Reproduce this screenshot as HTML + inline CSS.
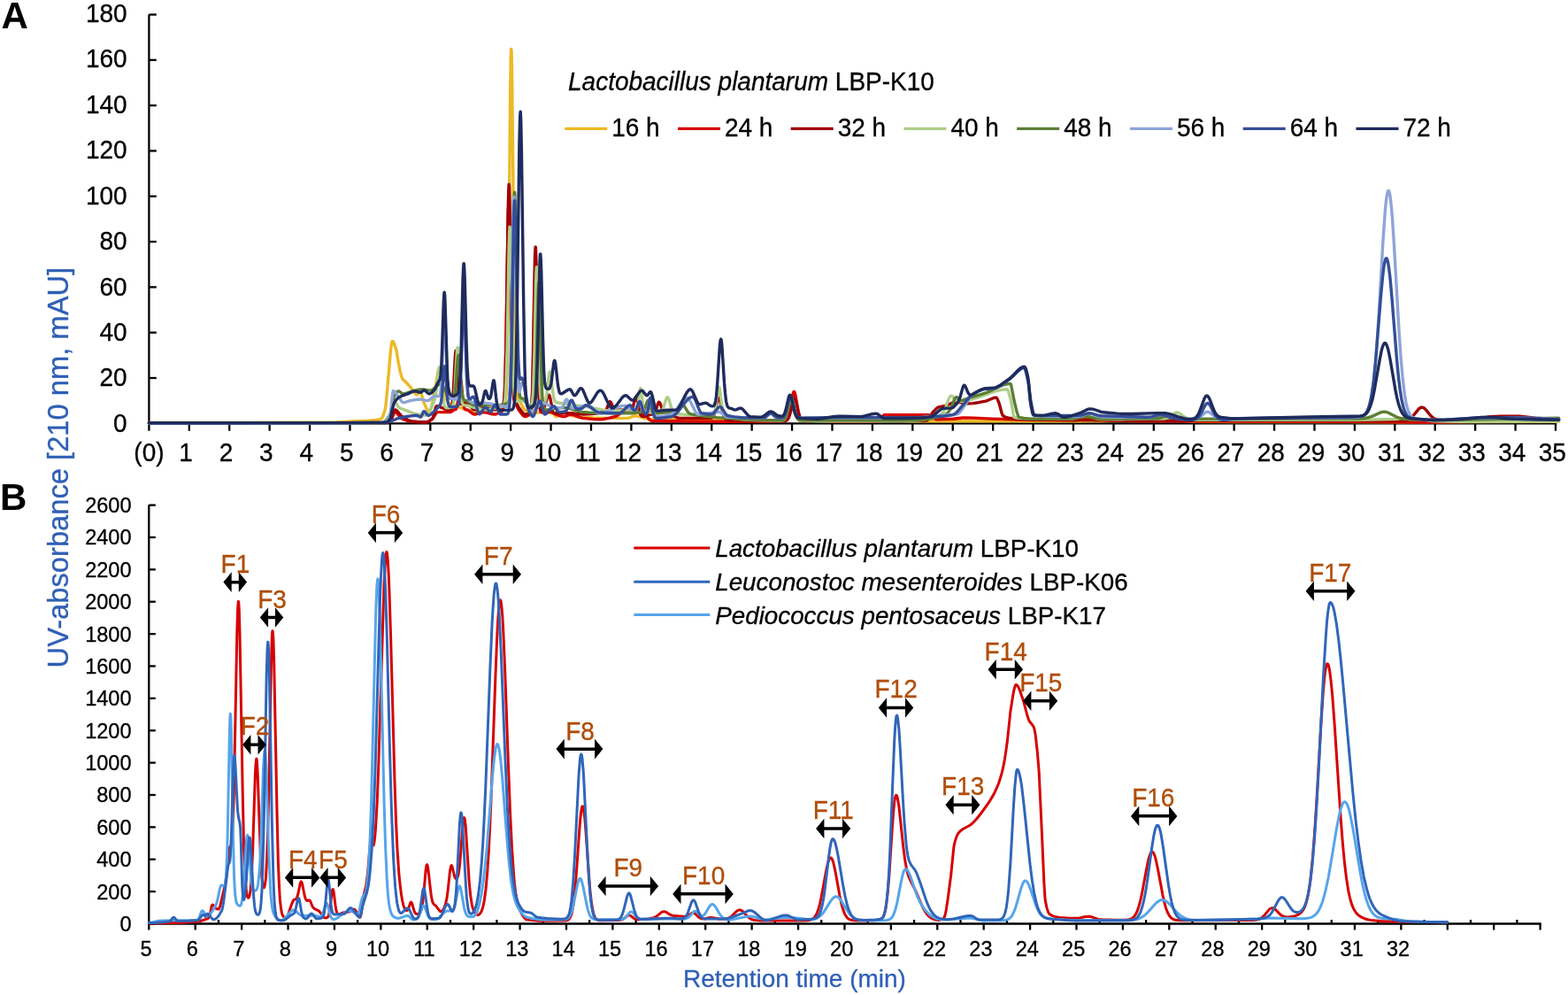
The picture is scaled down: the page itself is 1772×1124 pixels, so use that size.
<!DOCTYPE html>
<html><head><meta charset="utf-8"><style>
html,body{margin:0;padding:0;background:#fff;}
svg{display:block;}
text{font-family:'Liberation Sans', Arial, sans-serif;}
</style></head><body>
<svg width="1772" height="1124" viewBox="0 0 1772 1124">
<rect width="1772" height="1124" fill="#fff"/>
<g stroke="#000" stroke-width="2.3">
<line x1="168.4" y1="16.5" x2="168.4" y2="479.2"/>
<line x1="168.4" y1="478.30" x2="176.8" y2="478.30"/>
<line x1="168.4" y1="426.99" x2="176.8" y2="426.99"/>
<line x1="168.4" y1="375.68" x2="176.8" y2="375.68"/>
<line x1="168.4" y1="324.36" x2="176.8" y2="324.36"/>
<line x1="168.4" y1="273.05" x2="176.8" y2="273.05"/>
<line x1="168.4" y1="221.74" x2="176.8" y2="221.74"/>
<line x1="168.4" y1="170.43" x2="176.8" y2="170.43"/>
<line x1="168.4" y1="119.12" x2="176.8" y2="119.12"/>
<line x1="168.4" y1="67.80" x2="176.8" y2="67.80"/>
<line x1="168.4" y1="16.49" x2="176.8" y2="16.49"/>
<line x1="167.3" y1="478.3" x2="1759.10" y2="478.3"/>
<line x1="168.40" y1="478.3" x2="168.40" y2="486.7"/>
<line x1="213.82" y1="478.3" x2="213.82" y2="486.7"/>
<line x1="259.23" y1="478.3" x2="259.23" y2="486.7"/>
<line x1="304.65" y1="478.3" x2="304.65" y2="486.7"/>
<line x1="350.07" y1="478.3" x2="350.07" y2="486.7"/>
<line x1="395.49" y1="478.3" x2="395.49" y2="486.7"/>
<line x1="440.90" y1="478.3" x2="440.90" y2="486.7"/>
<line x1="486.32" y1="478.3" x2="486.32" y2="486.7"/>
<line x1="531.74" y1="478.3" x2="531.74" y2="486.7"/>
<line x1="577.15" y1="478.3" x2="577.15" y2="486.7"/>
<line x1="622.57" y1="478.3" x2="622.57" y2="486.7"/>
<line x1="667.99" y1="478.3" x2="667.99" y2="486.7"/>
<line x1="713.40" y1="478.3" x2="713.40" y2="486.7"/>
<line x1="758.82" y1="478.3" x2="758.82" y2="486.7"/>
<line x1="804.24" y1="478.3" x2="804.24" y2="486.7"/>
<line x1="849.65" y1="478.3" x2="849.65" y2="486.7"/>
<line x1="895.07" y1="478.3" x2="895.07" y2="486.7"/>
<line x1="940.49" y1="478.3" x2="940.49" y2="486.7"/>
<line x1="985.91" y1="478.3" x2="985.91" y2="486.7"/>
<line x1="1031.32" y1="478.3" x2="1031.32" y2="486.7"/>
<line x1="1076.74" y1="478.3" x2="1076.74" y2="486.7"/>
<line x1="1122.16" y1="478.3" x2="1122.16" y2="486.7"/>
<line x1="1167.57" y1="478.3" x2="1167.57" y2="486.7"/>
<line x1="1212.99" y1="478.3" x2="1212.99" y2="486.7"/>
<line x1="1258.41" y1="478.3" x2="1258.41" y2="486.7"/>
<line x1="1303.83" y1="478.3" x2="1303.83" y2="486.7"/>
<line x1="1349.24" y1="478.3" x2="1349.24" y2="486.7"/>
<line x1="1394.66" y1="478.3" x2="1394.66" y2="486.7"/>
<line x1="1440.08" y1="478.3" x2="1440.08" y2="486.7"/>
<line x1="1485.49" y1="478.3" x2="1485.49" y2="486.7"/>
<line x1="1530.91" y1="478.3" x2="1530.91" y2="486.7"/>
<line x1="1576.33" y1="478.3" x2="1576.33" y2="486.7"/>
<line x1="1621.74" y1="478.3" x2="1621.74" y2="486.7"/>
<line x1="1667.16" y1="478.3" x2="1667.16" y2="486.7"/>
<line x1="1712.58" y1="478.3" x2="1712.58" y2="486.7"/>
<line x1="1758.00" y1="478.3" x2="1758.00" y2="486.7"/>
<line x1="168.3" y1="570.6" x2="168.3" y2="1044.4"/>
<line x1="168.3" y1="1043.50" x2="175.8" y2="1043.50"/>
<line x1="168.3" y1="1007.12" x2="175.8" y2="1007.12"/>
<line x1="168.3" y1="970.75" x2="175.8" y2="970.75"/>
<line x1="168.3" y1="934.37" x2="175.8" y2="934.37"/>
<line x1="168.3" y1="898.00" x2="175.8" y2="898.00"/>
<line x1="168.3" y1="861.62" x2="175.8" y2="861.62"/>
<line x1="168.3" y1="825.24" x2="175.8" y2="825.24"/>
<line x1="168.3" y1="788.87" x2="175.8" y2="788.87"/>
<line x1="168.3" y1="752.49" x2="175.8" y2="752.49"/>
<line x1="168.3" y1="716.12" x2="175.8" y2="716.12"/>
<line x1="168.3" y1="679.74" x2="175.8" y2="679.74"/>
<line x1="168.3" y1="643.36" x2="175.8" y2="643.36"/>
<line x1="168.3" y1="606.99" x2="175.8" y2="606.99"/>
<line x1="168.3" y1="570.61" x2="175.8" y2="570.61"/>
<line x1="167.20000000000002" y1="1043.5" x2="1741.70" y2="1043.5"/>
<line x1="168.30" y1="1043.5" x2="168.30" y2="1050.5"/>
<line x1="220.71" y1="1043.5" x2="220.71" y2="1050.5"/>
<line x1="273.12" y1="1043.5" x2="273.12" y2="1050.5"/>
<line x1="325.53" y1="1043.5" x2="325.53" y2="1050.5"/>
<line x1="377.94" y1="1043.5" x2="377.94" y2="1050.5"/>
<line x1="430.35" y1="1043.5" x2="430.35" y2="1050.5"/>
<line x1="482.76" y1="1043.5" x2="482.76" y2="1050.5"/>
<line x1="535.17" y1="1043.5" x2="535.17" y2="1050.5"/>
<line x1="587.58" y1="1043.5" x2="587.58" y2="1050.5"/>
<line x1="639.99" y1="1043.5" x2="639.99" y2="1050.5"/>
<line x1="692.40" y1="1043.5" x2="692.40" y2="1050.5"/>
<line x1="744.81" y1="1043.5" x2="744.81" y2="1050.5"/>
<line x1="797.22" y1="1043.5" x2="797.22" y2="1050.5"/>
<line x1="849.63" y1="1043.5" x2="849.63" y2="1050.5"/>
<line x1="902.04" y1="1043.5" x2="902.04" y2="1050.5"/>
<line x1="954.45" y1="1043.5" x2="954.45" y2="1050.5"/>
<line x1="1006.86" y1="1043.5" x2="1006.86" y2="1050.5"/>
<line x1="1059.27" y1="1043.5" x2="1059.27" y2="1050.5"/>
<line x1="1111.68" y1="1043.5" x2="1111.68" y2="1050.5"/>
<line x1="1164.09" y1="1043.5" x2="1164.09" y2="1050.5"/>
<line x1="1216.50" y1="1043.5" x2="1216.50" y2="1050.5"/>
<line x1="1268.91" y1="1043.5" x2="1268.91" y2="1050.5"/>
<line x1="1321.32" y1="1043.5" x2="1321.32" y2="1050.5"/>
<line x1="1373.73" y1="1043.5" x2="1373.73" y2="1050.5"/>
<line x1="1426.14" y1="1043.5" x2="1426.14" y2="1050.5"/>
<line x1="1478.55" y1="1043.5" x2="1478.55" y2="1050.5"/>
<line x1="1530.96" y1="1043.5" x2="1530.96" y2="1050.5"/>
<line x1="1583.37" y1="1043.5" x2="1583.37" y2="1050.5"/>
<line x1="1635.78" y1="1043.5" x2="1635.78" y2="1050.5"/>
<line x1="1688.19" y1="1043.5" x2="1688.19" y2="1050.5"/>
<line x1="1740.60" y1="1043.5" x2="1740.60" y2="1050.5"/>
<line x1="194.50" y1="1043.5" x2="194.50" y2="1039"/>
<line x1="246.92" y1="1043.5" x2="246.92" y2="1039"/>
<line x1="299.32" y1="1043.5" x2="299.32" y2="1039"/>
<line x1="351.74" y1="1043.5" x2="351.74" y2="1039"/>
<line x1="404.14" y1="1043.5" x2="404.14" y2="1039"/>
<line x1="456.56" y1="1043.5" x2="456.56" y2="1039"/>
<line x1="508.96" y1="1043.5" x2="508.96" y2="1039"/>
<line x1="561.38" y1="1043.5" x2="561.38" y2="1039"/>
<line x1="613.78" y1="1043.5" x2="613.78" y2="1039"/>
<line x1="666.19" y1="1043.5" x2="666.19" y2="1039"/>
<line x1="718.61" y1="1043.5" x2="718.61" y2="1039"/>
<line x1="771.01" y1="1043.5" x2="771.01" y2="1039"/>
<line x1="823.42" y1="1043.5" x2="823.42" y2="1039"/>
<line x1="875.84" y1="1043.5" x2="875.84" y2="1039"/>
<line x1="928.24" y1="1043.5" x2="928.24" y2="1039"/>
<line x1="980.65" y1="1043.5" x2="980.65" y2="1039"/>
<line x1="1033.07" y1="1043.5" x2="1033.07" y2="1039"/>
<line x1="1085.47" y1="1043.5" x2="1085.47" y2="1039"/>
<line x1="1137.88" y1="1043.5" x2="1137.88" y2="1039"/>
<line x1="1190.29" y1="1043.5" x2="1190.29" y2="1039"/>
<line x1="1242.70" y1="1043.5" x2="1242.70" y2="1039"/>
<line x1="1295.11" y1="1043.5" x2="1295.11" y2="1039"/>
<line x1="1347.52" y1="1043.5" x2="1347.52" y2="1039"/>
<line x1="1399.93" y1="1043.5" x2="1399.93" y2="1039"/>
<line x1="1452.34" y1="1043.5" x2="1452.34" y2="1039"/>
<line x1="1504.75" y1="1043.5" x2="1504.75" y2="1039"/>
<line x1="1557.16" y1="1043.5" x2="1557.16" y2="1039"/>
<line x1="1609.57" y1="1043.5" x2="1609.57" y2="1039"/>
<line x1="1661.98" y1="1043.5" x2="1661.98" y2="1039"/>
<line x1="1714.39" y1="1043.5" x2="1714.39" y2="1039"/>
</g>
<g fill="none" stroke-width="3.4" stroke-linejoin="round" stroke-linecap="round">
<path d="M168.4,477.5 L285.1,477.4 L378.7,477.0 L416.6,475.2 L425.2,474.5 L430.2,473.4 L430.9,473.0 L431.6,472.2 L433.0,469.6 L434.5,464.9 L435.7,460.2 L436.6,452.1 L441.6,394.9 L442.5,387.9 L442.9,386.0 L443.4,385.4 L444.3,386.0 L445.2,387.6 L447.7,394.6 L450.2,409.4 L452.0,418.4 L453.4,424.2 L454.5,427.3 L455.7,428.9 L458.6,431.5 L463.6,437.1 L466.3,440.4 L469.1,444.6 L470.2,445.7 L470.9,446.0 L471.3,445.8 L472.0,444.9 L473.8,441.4 L474.5,440.8 L475.0,441.1 L476.1,443.9 L478.1,452.1 L479.1,455.0 L482.5,462.5 L483.6,464.3 L484.7,465.3 L485.4,465.4 L486.1,464.7 L487.5,460.5 L492.0,437.9 L494.9,420.3 L495.9,417.1 L496.5,416.2 L497.0,416.7 L497.7,419.0 L500.4,435.2 L503.6,447.7 L504.7,451.4 L505.6,453.6 L506.5,455.0 L507.7,455.8 L509.5,456.5 L513.6,457.8 L522.2,461.3 L526.1,462.6 L535.4,464.9 L538.5,465.4 L541.3,465.5 L545.4,465.3 L549.9,464.7 L554.9,463.8 L559.7,462.7 L562.4,461.1 L566.9,457.3 L569.9,455.1 L570.6,454.2 L571.2,452.1 L571.7,449.3 L572.2,444.4 L572.8,430.7 L573.5,404.8 L574.7,322.3 L576.7,100.1 L577.2,69.0 L577.6,55.4 L577.8,55.7 L578.1,59.9 L578.7,94.6 L581.7,367.2 L582.4,403.9 L583.3,432.2 L584.2,444.7 L584.6,447.7 L585.3,450.0 L587.6,453.5 L591.0,460.3 L592.4,462.3 L593.0,462.9 L594.9,463.9 L598.5,465.6 L600.8,466.3 L602.8,466.5 L605.3,466.4 L612.8,465.5 L616.2,465.6 L619.6,466.0 L622.8,466.6 L625.7,467.5 L626.4,468.1 L627.8,470.2 L628.5,470.6 L629.6,470.4 L630.7,469.8 L635.7,465.8 L636.6,465.4 L637.6,465.2 L638.9,465.4 L640.5,466.0 L646.6,469.5 L649.1,470.5 L659.1,471.4 L670.9,472.0 L685.5,472.4 L709.1,472.4 L711.1,472.0 L716.1,470.1 L718.2,469.8 L721.6,470.4 L729.3,472.9 L733.6,473.2 L827.6,475.0 L883.5,475.3 L885.3,475.2 L886.7,474.9 L887.8,474.3 L888.7,473.3 L890.3,470.5 L893.5,462.1 L894.4,460.7 L895.1,460.3 L895.8,460.7 L896.7,462.1 L899.8,470.5 L901.4,473.4 L902.3,474.3 L903.5,475.0 L904.8,475.3 L907.1,475.4 L1029.5,475.7 L1217.1,475.7 L1243.2,475.5 L1301.3,474.6 L1326.5,474.5 L1331.8,474.7 L1343.1,475.9 L1348.1,476.2 L1402.4,476.5 L1583.1,476.7 L1761.6,476.2" stroke="#ecb925"/>
<path d="M168.4,478.3 L321.0,478.2 L432.5,477.8 L436.8,477.1 L441.1,475.6 L442.3,473.8 L445.0,467.0 L445.7,465.9 L446.4,465.5 L447.5,465.8 L448.6,466.7 L452.5,471.5 L453.8,472.8 L455.9,473.7 L459.3,475.0 L462.5,475.8 L465.7,476.2 L475.2,476.7 L482.5,476.7 L483.6,476.4 L485.0,475.7 L488.8,473.0 L490.0,471.5 L492.7,466.9 L494.0,465.6 L509.3,465.5 L510.2,465.1 L512.7,463.2 L514.7,462.6 L515.4,462.1 L516.3,460.1 L517.2,455.4 L519.5,432.1 L519.9,429.1 L520.4,428.0 L520.8,429.1 L521.3,432.1 L522.9,449.3 L523.8,456.9 L524.7,460.8 L525.6,462.3 L526.3,462.7 L527.9,463.0 L529.0,463.4 L534.0,467.2 L535.1,467.8 L536.1,468.0 L538.1,467.8 L543.1,465.9 L545.4,465.5 L548.8,465.9 L556.3,467.8 L559.4,468.0 L561.9,467.3 L566.3,465.2 L567.4,464.3 L568.1,463.3 L569.0,460.0 L569.9,451.3 L570.6,437.8 L571.7,393.7 L574.0,254.1 L574.4,237.9 L574.9,232.0 L575.1,233.2 L575.3,237.2 L576.0,263.5 L577.6,363.4 L578.5,409.4 L579.2,431.3 L579.9,444.1 L580.6,450.5 L581.0,452.7 L581.5,454.0 L583.1,456.4 L585.3,461.3 L586.2,462.9 L590.6,468.8 L591.9,470.0 L593.0,470.6 L594.2,470.5 L595.5,470.1 L598.3,468.5 L599.2,467.7 L599.9,466.2 L600.3,464.1 L601.0,457.8 L601.7,444.9 L602.1,431.2 L604.4,318.6 L604.9,304.0 L605.3,298.7 L605.8,303.8 L606.2,318.3 L608.5,430.1 L609.4,453.0 L610.3,462.5 L611.0,464.9 L611.4,465.6 L611.9,465.9 L612.8,466.0 L618.9,465.6 L623.3,465.5 L624.6,466.0 L628.2,468.0 L633.2,469.8 L636.0,470.5 L637.6,470.6 L638.7,470.5 L643.7,468.5 L646.0,468.3 L648.9,468.9 L655.7,471.6 L658.7,472.4 L671.8,473.6 L677.5,473.7 L681.4,473.5 L688.0,472.4 L695.9,470.4 L698.4,469.0 L703.4,465.3 L705.5,463.9 L707.5,463.1 L709.3,462.9 L713.4,463.3 L717.9,464.3 L722.7,465.9 L728.4,468.3 L730.0,469.5 L734.1,474.2 L735.2,475.0 L736.1,475.2 L773.8,475.9 L817.9,476.2 L853.7,476.2 L886.4,475.6 L888.3,475.2 L889.4,474.3 L890.3,472.9 L891.2,470.5 L892.8,463.7 L895.8,446.3 L896.7,443.1 L897.3,442.4 L898.0,443.1 L898.9,446.3 L902.1,464.9 L903.7,471.2 L904.6,473.3 L905.7,474.7 L907.1,475.4 L909.2,475.7 L914.4,475.7 L920.1,474.7 L922.3,474.5 L926.4,474.7 L935.7,475.9 L939.8,476.2 L969.1,476.1 L992.7,475.7 L993.4,475.5 L994.3,474.8 L997.7,470.0 L998.6,469.2 L999.3,468.8 L1036.8,468.6 L1049.5,468.7 L1051.5,469.6 L1056.3,473.0 L1057.4,473.5 L1058.6,473.7 L1077.0,473.2 L1087.4,472.0 L1092.0,471.9 L1100.8,472.1 L1121.5,473.1 L1159.9,474.3 L1213.4,474.7 L1227.5,473.8 L1232.1,473.7 L1238.4,473.9 L1256.8,475.2 L1289.3,475.7 L1488.2,476.1 L1535.5,476.3 L1584.5,476.9 L1608.6,477.0 L1642.9,476.8 L1653.5,476.5 L1676.2,475.2 L1685.1,474.2 L1761.6,474.5" stroke="#d90000"/>
<path d="M168.4,478.3 L322.4,478.2 L432.7,477.8 L437.0,477.1 L439.3,476.4 L441.1,475.6 L442.3,473.4 L445.0,464.8 L445.7,463.4 L446.4,462.9 L447.5,463.2 L448.6,464.1 L452.7,468.9 L454.3,470.4 L459.3,473.6 L462.7,475.2 L465.4,475.9 L470.7,476.4 L479.1,476.7 L482.0,476.8 L483.1,476.6 L484.5,476.1 L485.9,475.3 L488.8,472.9 L489.7,470.6 L492.2,460.9 L492.9,459.3 L493.4,458.8 L494.7,458.9 L496.5,459.4 L502.9,462.1 L505.8,462.9 L507.4,462.9 L508.8,462.6 L509.5,462.0 L510.2,460.9 L511.1,456.9 L512.0,447.8 L514.3,404.2 L514.7,398.4 L515.2,396.2 L515.4,396.6 L515.6,397.9 L516.1,403.2 L517.7,433.9 L518.6,447.2 L519.5,453.9 L519.9,455.4 L520.4,456.2 L520.8,456.5 L521.3,456.6 L525.6,455.3 L527.2,455.2 L528.1,455.4 L529.9,456.9 L534.0,461.7 L535.1,462.6 L536.1,462.9 L538.1,462.6 L543.1,460.7 L545.4,460.3 L548.8,460.7 L556.3,462.6 L559.4,462.9 L561.7,462.3 L566.9,459.8 L568.1,458.7 L568.8,457.1 L569.7,452.0 L570.3,443.2 L571.0,426.9 L572.2,375.2 L574.2,236.3 L574.7,216.8 L575.1,208.2 L575.3,208.4 L575.6,211.6 L576.0,226.4 L578.5,387.0 L579.2,416.5 L580.1,438.9 L580.8,446.8 L581.2,449.5 L581.9,451.6 L586.0,460.0 L590.6,466.2 L591.9,467.5 L593.0,468.0 L597.6,467.8 L598.5,467.5 L599.2,466.8 L599.9,464.9 L600.3,462.2 L601.0,454.0 L601.7,437.8 L602.1,421.0 L604.2,305.3 L604.6,287.1 L605.1,279.0 L605.3,279.2 L605.5,282.3 L606.0,296.5 L607.8,399.9 L608.5,429.7 L609.2,448.3 L609.9,457.8 L610.3,461.0 L611.0,463.0 L611.4,463.5 L611.9,463.5 L613.7,462.7 L614.4,461.7 L615.3,459.5 L618.7,448.4 L619.6,446.7 L620.1,446.3 L620.5,446.3 L621.0,447.1 L621.7,449.4 L624.6,464.5 L625.3,466.4 L625.7,466.8 L646.2,466.8 L656.0,467.9 L659.6,468.0 L668.9,467.6 L679.6,466.4 L682.7,465.4 L683.7,464.9 L684.6,463.9 L685.9,461.4 L688.2,455.1 L688.9,454.0 L689.3,453.7 L689.8,453.8 L690.5,454.6 L692.5,459.3 L693.4,461.0 L694.3,462.0 L695.2,462.6 L697.5,462.9 L709.1,462.9 L712.7,463.3 L713.9,462.6 L714.8,461.0 L715.7,458.2 L717.7,449.8 L718.2,448.7 L718.6,448.2 L718.9,448.3 L719.3,448.9 L720.0,451.2 L722.0,462.0 L723.2,466.6 L723.8,468.3 L724.5,469.4 L725.2,470.0 L726.1,470.4 L727.7,470.6 L729.8,470.2 L734.5,468.5 L737.7,467.6 L739.3,466.7 L740.2,465.5 L740.9,464.2 L743.6,455.8 L744.3,454.5 L744.7,454.2 L745.2,454.3 L745.9,455.4 L748.4,462.3 L749.1,463.6 L750.0,464.7 L750.9,465.2 L753.6,465.7 L755.6,466.4 L762.9,470.8 L765.6,472.0 L767.9,472.4 L802.9,472.3 L804.2,472.0 L805.1,471.5 L806.1,470.3 L806.7,469.0 L808.1,464.6 L811.1,451.6 L811.7,449.9 L812.4,449.3 L813.1,450.0 L814.0,452.8 L816.5,464.7 L817.9,469.7 L818.5,471.4 L819.5,472.9 L820.4,473.8 L821.5,474.3 L823.3,474.7 L826.5,474.9 L846.5,475.7 L862.6,475.6 L886.4,475.2 L888.3,474.9 L889.4,474.4 L890.5,473.3 L891.4,471.7 L893.0,467.0 L896.2,453.0 L897.1,450.7 L897.8,450.1 L898.5,450.6 L899.4,453.0 L902.3,465.8 L903.7,470.3 L904.6,472.2 L905.5,473.4 L906.4,474.1 L907.8,474.5 L939.4,475.2 L1019.1,475.2 L1047.2,475.0 L1048.1,474.6 L1049.3,473.5 L1052.9,467.5 L1054.0,466.0 L1058.1,461.6 L1059.5,460.5 L1060.8,459.8 L1068.6,458.3 L1076.5,455.2 L1079.5,454.3 L1081.3,454.2 L1083.3,454.3 L1089.9,455.7 L1092.2,455.9 L1095.6,455.9 L1099.7,455.6 L1105.6,454.7 L1114.0,453.1 L1116.3,452.3 L1122.4,449.7 L1124.2,449.2 L1125.8,449.1 L1126.2,449.3 L1126.9,450.2 L1129.2,455.8 L1132.1,466.7 L1132.8,468.5 L1133.5,469.6 L1136.7,471.4 L1140.1,472.3 L1149.9,473.4 L1160.3,474.0 L1254.1,474.9 L1310.0,475.2 L1584.3,475.2 L1587.5,475.0 L1589.7,474.6 L1591.8,473.9 L1593.6,472.9 L1595.2,471.7 L1597.0,469.8 L1603.4,461.9 L1605.2,460.5 L1606.8,460.1 L1608.3,460.4 L1610.2,461.7 L1611.8,463.4 L1616.3,469.0 L1619.2,471.8 L1620.8,472.7 L1622.7,473.5 L1626.7,474.3 L1633.1,474.4 L1667.8,474.4 L1671.7,473.9 L1680.3,471.4 L1684.2,470.7 L1696.0,470.3 L1709.6,470.1 L1717.3,470.3 L1734.8,472.1 L1761.6,473.7" stroke="#a10000"/>
<path d="M168.4,478.3 L320.5,478.2 L432.0,477.8 L433.9,477.1 L435.9,475.4 L438.2,472.5 L440.9,468.0 L441.8,465.4 L444.3,454.7 L445.0,453.0 L445.4,452.6 L446.1,453.0 L446.8,453.8 L450.0,459.6 L450.9,460.3 L453.2,461.5 L460.4,464.1 L466.8,466.8 L469.5,467.7 L476.3,468.8 L481.6,469.0 L482.2,468.7 L483.1,467.9 L485.2,464.8 L489.7,455.3 L491.3,451.1 L492.2,447.1 L492.9,442.7 L495.4,419.9 L496.1,415.7 L496.5,414.6 L496.8,414.7 L497.0,415.1 L497.7,418.7 L500.4,447.2 L501.3,453.8 L502.2,457.7 L503.4,460.0 L504.0,460.6 L504.7,460.8 L507.0,460.7 L509.7,460.3 L510.8,459.6 L511.5,458.6 L512.2,456.5 L512.7,454.1 L513.6,445.9 L516.1,402.1 L516.7,394.1 L517.2,392.4 L517.7,393.9 L518.3,401.6 L520.2,434.8 L521.1,446.9 L522.0,453.6 L522.4,455.4 L523.1,456.8 L523.6,457.3 L524.2,457.6 L528.8,458.3 L534.9,460.0 L544.0,462.2 L549.0,462.9 L552.2,462.8 L555.8,462.2 L565.1,460.0 L568.3,458.9 L569.0,458.3 L569.7,457.2 L570.6,453.1 L571.2,446.1 L571.9,432.9 L573.1,391.2 L575.1,278.8 L575.6,263.1 L576.0,256.1 L576.2,256.3 L576.5,258.9 L577.2,280.0 L579.7,410.3 L580.3,431.0 L581.2,445.8 L581.9,450.6 L582.4,452.2 L583.1,453.2 L584.2,453.4 L588.3,452.8 L591.2,452.7 L592.6,453.5 L596.0,457.1 L597.4,457.8 L599.0,457.7 L599.9,457.5 L600.5,456.9 L601.0,456.0 L601.5,454.2 L601.9,451.1 L602.6,442.0 L603.7,408.7 L605.5,321.7 L606.0,307.4 L606.4,301.6 L606.7,302.3 L606.9,305.3 L607.4,317.9 L609.2,403.9 L610.1,433.9 L610.5,442.9 L611.2,450.5 L611.7,453.0 L612.1,454.4 L612.6,455.0 L613.3,455.3 L614.6,454.9 L615.5,454.0 L616.2,452.7 L616.9,450.4 L618.0,443.7 L620.3,424.0 L621.0,420.5 L621.4,419.8 L621.9,420.5 L622.6,423.9 L624.6,441.6 L625.7,448.9 L626.4,451.6 L627.1,453.2 L628.0,454.2 L629.2,454.7 L668.2,460.4 L681.8,463.2 L687.1,464.0 L690.0,464.2 L693.2,464.1 L708.0,462.9 L718.2,463.4 L718.9,463.1 L719.5,462.2 L720.4,459.4 L721.4,454.0 L722.9,441.4 L723.4,439.3 L723.8,438.5 L724.3,439.4 L724.8,441.7 L726.3,454.7 L727.3,460.4 L727.7,462.2 L728.4,463.9 L729.1,464.7 L729.8,465.1 L737.5,466.4 L741.3,466.8 L744.7,466.8 L746.6,466.1 L747.7,465.0 L748.8,462.9 L750.0,459.8 L752.7,450.9 L753.6,449.2 L754.3,448.8 L755.0,449.2 L755.9,451.0 L758.6,460.2 L760.0,463.8 L761.3,466.1 L762.9,467.2 L765.6,467.8 L790.4,469.1 L798.6,469.3 L803.6,469.2 L805.1,468.9 L806.3,468.2 L807.2,466.7 L807.9,464.6 L809.0,458.6 L811.3,441.0 L812.0,437.9 L812.4,437.3 L812.9,437.8 L813.5,440.8 L815.6,456.5 L816.5,461.9 L817.4,465.3 L818.3,467.0 L819.2,467.7 L822.6,468.9 L828.1,472.0 L830.4,472.9 L835.8,473.6 L844.2,474.2 L859.0,474.7 L880.8,475.0 L883.7,475.0 L885.3,474.6 L886.2,474.0 L887.1,473.0 L888.5,470.0 L889.8,465.1 L892.6,453.0 L893.5,450.6 L894.2,450.1 L894.8,450.7 L895.8,453.1 L898.7,466.2 L900.3,471.4 L901.2,473.1 L902.1,474.2 L903.0,474.8 L904.4,475.2 L908.0,475.4 L932.1,475.7 L974.8,475.7 L1031.6,475.2 L1038.8,474.7 L1047.2,473.4 L1057.2,471.0 L1060.4,469.9 L1063.3,468.2 L1065.4,466.2 L1067.2,463.4 L1068.8,459.8 L1072.4,450.0 L1073.6,448.0 L1074.5,447.2 L1075.2,447.2 L1076.1,447.6 L1079.5,451.7 L1080.4,452.5 L1081.5,453.1 L1084.0,453.6 L1088.5,453.2 L1094.0,452.3 L1099.9,450.7 L1105.6,448.8 L1119.0,443.8 L1125.8,441.6 L1132.1,440.3 L1138.1,439.8 L1138.7,440.3 L1139.4,441.6 L1141.2,447.8 L1142.8,454.1 L1145.1,467.9 L1146.0,471.2 L1146.7,471.5 L1151.0,472.2 L1158.3,472.9 L1183.0,473.3 L1208.9,473.4 L1211.9,473.2 L1214.6,472.7 L1217.1,472.0 L1223.2,469.8 L1226.6,469.3 L1230.0,469.8 L1236.2,472.0 L1238.9,472.8 L1241.8,473.3 L1245.2,473.6 L1266.1,473.7 L1313.6,473.1 L1317.2,472.7 L1319.9,471.9 L1322.4,470.5 L1327.4,466.8 L1328.8,466.2 L1330.2,466.0 L1331.5,466.2 L1332.9,466.8 L1338.1,470.7 L1340.8,472.1 L1345.4,473.6 L1349.2,474.2 L1534.8,474.4 L1574.5,473.5 L1579.3,473.2 L1586.8,472.1 L1590.0,471.9 L1593.1,472.1 L1600.4,473.1 L1607.0,473.8 L1618.1,475.5 L1623.3,475.8 L1649.7,476.2 L1679.2,476.2 L1725.5,476.1 L1761.6,475.7" stroke="#aecd87"/>
<path d="M168.4,478.3 L329.9,478.2 L432.5,477.7 L434.3,476.9 L436.4,475.0 L438.6,471.9 L440.9,468.0 L441.8,465.1 L444.3,451.5 L445.2,448.0 L447.7,443.9 L448.8,442.6 L450.0,442.0 L450.7,441.9 L451.3,442.1 L454.5,444.6 L455.2,444.9 L455.9,444.9 L458.8,444.4 L465.4,442.0 L471.3,440.6 L474.5,440.0 L478.4,439.9 L484.3,440.9 L486.8,441.1 L487.9,440.7 L489.3,439.9 L495.2,434.8 L496.5,434.1 L497.9,433.9 L499.3,434.7 L500.6,436.5 L505.6,446.1 L507.4,448.9 L508.6,449.9 L509.7,450.2 L511.3,450.4 L512.2,450.0 L512.9,449.0 L513.3,447.6 L514.3,442.6 L515.2,433.5 L517.2,406.0 L517.7,402.5 L518.1,401.3 L518.6,402.6 L519.2,408.6 L521.1,434.0 L522.0,443.4 L522.9,448.6 L523.6,450.5 L524.2,451.5 L525.2,452.1 L528.6,453.2 L533.8,456.9 L534.9,457.5 L536.1,457.8 L564.7,457.7 L569.0,457.0 L571.7,456.1 L573.5,455.3 L574.4,454.5 L575.1,453.1 L576.0,448.1 L576.7,439.5 L577.4,423.4 L578.5,373.2 L580.6,241.7 L581.0,224.2 L581.5,217.2 L581.7,218.0 L581.9,221.6 L582.6,247.9 L585.1,400.6 L586.0,429.8 L586.5,438.1 L587.1,445.2 L587.6,447.6 L588.3,449.3 L589.0,449.9 L591.0,450.1 L592.1,450.8 L593.3,452.2 L596.0,456.3 L597.4,457.7 L601.2,459.3 L602.6,459.5 L603.0,459.3 L603.5,458.6 L604.2,455.9 L605.1,445.8 L605.8,430.1 L608.0,335.8 L608.5,323.5 L608.9,319.2 L609.4,323.7 L609.9,336.2 L611.7,416.1 L612.6,443.2 L613.3,454.1 L613.9,459.4 L614.4,461.1 L614.8,462.0 L615.3,462.5 L616.0,462.8 L618.3,462.9 L621.0,462.7 L632.1,460.7 L636.9,460.4 L639.6,460.6 L642.6,461.2 L652.5,464.2 L656.0,465.0 L658.4,465.4 L664.6,466.0 L672.5,466.5 L679.6,466.7 L715.2,466.7 L721.8,465.7 L725.7,465.3 L727.0,464.8 L727.9,463.7 L728.6,462.4 L731.3,453.6 L732.0,452.4 L732.5,452.1 L732.9,452.5 L733.6,453.9 L735.7,461.2 L736.8,464.3 L737.5,465.4 L738.2,466.1 L739.7,466.7 L743.6,466.7 L755.2,465.6 L762.5,465.5 L764.3,465.3 L765.4,464.8 L766.5,463.9 L770.4,458.6 L771.3,457.9 L772.0,457.8 L772.7,458.1 L773.4,458.8 L777.0,464.8 L778.1,466.2 L779.3,467.1 L780.4,467.6 L782.0,468.0 L791.7,469.5 L799.0,470.5 L810.4,471.6 L843.1,473.9 L859.0,474.4 L882.8,474.6 L884.6,474.4 L885.8,473.9 L886.9,472.9 L887.8,471.4 L889.4,466.7 L892.6,453.0 L893.5,450.6 L894.2,450.1 L894.8,450.6 L895.8,453.0 L898.7,465.8 L900.1,470.3 L901.0,472.2 L901.9,473.4 L902.8,474.1 L904.2,474.5 L910.3,474.7 L1031.6,474.7 L1037.0,474.5 L1046.1,473.7 L1056.1,472.1 L1063.8,470.4 L1065.8,469.7 L1067.9,468.6 L1071.1,466.3 L1073.3,463.5 L1075.2,459.9 L1078.6,451.1 L1079.5,449.6 L1080.4,448.7 L1081.1,448.7 L1081.7,448.9 L1084.2,451.3 L1085.4,452.1 L1086.5,452.4 L1087.9,452.2 L1097.0,448.9 L1109.9,445.1 L1114.7,443.5 L1119.2,441.6 L1129.0,436.8 L1133.5,435.0 L1137.8,433.8 L1141.7,433.4 L1142.4,434.3 L1143.0,436.6 L1146.0,452.2 L1149.2,465.6 L1150.8,470.3 L1151.5,471.3 L1152.8,471.7 L1157.4,472.5 L1162.4,473.0 L1167.6,473.2 L1209.4,473.1 L1214.8,472.6 L1223.2,470.9 L1226.6,470.6 L1230.0,470.9 L1238.7,472.6 L1244.3,473.1 L1302.0,473.1 L1306.1,472.9 L1309.5,472.5 L1312.5,471.7 L1318.6,469.8 L1322.0,469.3 L1325.4,469.8 L1331.8,471.8 L1334.7,472.5 L1338.1,472.9 L1342.4,473.1 L1532.5,473.1 L1540.4,472.7 L1546.4,471.7 L1551.1,470.1 L1560.0,466.0 L1562.2,465.4 L1564.3,465.2 L1566.6,465.5 L1568.8,466.2 L1577.9,470.8 L1582.5,472.5 L1587.9,473.5 L1596.3,474.0 L1618.3,474.4 L1646.7,474.3 L1761.6,472.1" stroke="#5b7e35"/>
<path d="M168.4,478.3 L332.1,478.1 L405.7,477.7 L434.8,477.4 L436.4,476.3 L437.9,474.2 L439.8,470.7 L441.1,467.2 L441.8,462.6 L443.6,445.3 L444.1,442.6 L444.5,441.6 L445.4,441.9 L446.6,442.9 L453.8,453.4 L454.8,454.3 L455.7,454.7 L457.9,454.4 L463.4,452.7 L469.3,451.6 L472.9,451.2 L476.1,451.2 L481.3,452.4 L483.6,452.6 L485.2,451.9 L488.8,448.7 L490.4,447.7 L491.3,447.5 L495.6,447.6 L496.3,447.4 L496.8,446.9 L497.4,445.3 L497.9,442.9 L498.8,433.4 L499.7,415.0 L501.3,372.8 L501.8,365.4 L502.2,362.8 L502.7,365.6 L503.1,373.1 L505.4,430.9 L506.1,440.6 L506.8,446.0 L507.4,448.5 L507.9,449.3 L508.6,449.9 L510.2,450.4 L513.8,450.8 L515.8,451.0 L517.0,450.8 L517.7,450.2 L518.1,449.4 L518.8,446.6 L519.5,441.0 L519.9,434.9 L521.1,408.4 L523.1,340.9 L523.6,332.4 L524.0,329.5 L524.5,332.5 L525.2,347.1 L527.0,409.1 L527.9,431.8 L528.8,444.5 L529.2,447.9 L529.9,450.9 L530.6,452.3 L531.5,453.2 L533.6,454.4 L535.4,455.1 L546.5,455.2 L550.6,455.5 L565.1,458.1 L572.4,459.7 L573.5,459.6 L574.2,458.9 L574.7,457.7 L575.3,453.8 L576.0,445.1 L576.7,428.6 L577.8,377.1 L579.9,245.1 L580.3,228.4 L580.8,222.5 L581.2,228.2 L581.9,256.1 L584.2,397.2 L584.9,422.2 L585.6,436.2 L586.0,440.7 L586.2,441.9 L586.7,442.8 L586.9,442.6 L587.4,441.6 L589.0,435.5 L589.9,432.9 L590.3,432.3 L590.8,432.1 L591.5,432.8 L592.1,434.6 L592.8,437.2 L595.8,452.7 L597.1,458.4 L598.7,462.5 L599.9,464.0 L600.8,464.6 L601.9,464.6 L603.3,463.8 L604.9,462.3 L609.9,457.0 L611.4,455.8 L613.0,455.2 L614.6,455.3 L616.2,455.8 L622.3,459.2 L624.6,460.2 L631.9,460.7 L634.4,460.5 L635.3,460.0 L636.2,458.9 L637.1,457.2 L639.1,452.2 L639.8,451.3 L640.3,451.1 L640.7,451.3 L641.4,452.3 L643.5,457.4 L644.4,459.1 L645.3,460.2 L646.2,460.8 L648.0,461.1 L650.3,460.9 L660.9,458.2 L663.4,457.8 L665.3,457.8 L666.6,458.3 L668.0,459.3 L674.3,465.6 L675.7,466.4 L677.1,466.8 L680.2,466.5 L683.7,465.6 L687.3,464.4 L698.2,459.8 L701.6,458.8 L704.5,458.4 L706.4,458.3 L707.5,458.7 L708.9,459.6 L711.8,462.1 L713.2,462.8 L715.4,463.4 L717.0,463.3 L717.9,462.8 L718.9,461.7 L719.8,459.8 L721.8,454.1 L722.5,453.1 L722.9,452.9 L723.4,453.2 L724.1,454.4 L726.1,460.5 L727.3,463.2 L728.6,464.8 L729.5,465.2 L730.2,465.3 L731.1,464.7 L732.0,462.8 L734.3,452.6 L734.7,451.4 L735.2,451.1 L735.7,451.9 L736.1,453.6 L738.4,466.1 L739.5,469.2 L740.2,470.0 L741.3,470.5 L746.1,470.4 L750.2,469.9 L754.7,469.0 L759.0,468.0 L760.4,467.2 L762.0,465.8 L763.6,463.9 L769.5,455.0 L771.8,452.0 L774.0,450.0 L775.2,449.4 L776.1,449.3 L776.8,449.5 L777.4,449.9 L779.0,451.7 L780.6,454.5 L785.8,464.9 L787.4,467.1 L788.8,468.0 L793.8,467.8 L806.7,465.9 L812.6,465.5 L813.5,465.7 L814.7,466.2 L819.9,470.1 L821.0,470.8 L822.2,471.1 L834.9,471.6 L860.8,472.0 L863.1,471.9 L864.9,471.3 L866.5,470.2 L869.4,467.4 L870.3,466.9 L871.0,466.8 L871.7,466.9 L872.6,467.4 L875.8,470.5 L877.4,471.6 L879.4,472.1 L882.4,472.3 L883.9,472.0 L885.1,471.5 L886.2,470.2 L887.1,468.5 L888.7,463.4 L891.7,450.4 L892.6,448.1 L893.3,447.5 L893.9,448.1 L894.8,450.4 L897.8,463.4 L899.4,468.5 L900.3,470.2 L901.2,471.3 L902.3,471.9 L903.7,472.2 L938.4,471.9 L1033.4,471.9 L1042.5,471.4 L1062.9,469.3 L1077.2,468.5 L1081.7,467.9 L1082.9,467.3 L1084.0,466.4 L1085.8,464.2 L1091.3,456.5 L1096.7,447.9 L1098.1,446.3 L1100.4,444.7 L1105.4,441.8 L1110.1,439.9 L1113.5,439.3 L1123.3,438.7 L1125.8,438.0 L1128.3,436.9 L1132.4,434.4 L1141.9,427.4 L1144.4,425.1 L1149.9,419.4 L1152.1,417.4 L1154.4,416.0 L1155.5,415.6 L1156.7,415.4 L1157.1,415.6 L1157.8,416.4 L1158.9,419.0 L1160.1,422.8 L1161.7,429.6 L1162.4,434.6 L1163.7,449.6 L1164.4,455.2 L1166.4,465.7 L1167.3,468.6 L1168.0,469.3 L1186.0,470.2 L1216.6,470.6 L1219.1,470.4 L1221.4,469.9 L1223.7,469.2 L1228.4,467.2 L1231.2,466.8 L1233.9,467.3 L1238.7,469.4 L1240.9,470.2 L1243.4,470.7 L1246.4,471.0 L1295.6,471.6 L1300.9,471.1 L1309.3,468.9 L1312.7,468.5 L1315.9,469.0 L1323.6,471.5 L1328.1,472.4 L1335.2,472.9 L1347.2,473.1 L1351.3,472.8 L1354.2,471.9 L1356.7,470.4 L1362.0,466.1 L1363.3,465.5 L1364.7,465.2 L1366.0,465.5 L1367.4,466.1 L1372.4,470.3 L1374.7,471.7 L1377.4,472.6 L1380.6,473.0 L1413.7,472.4 L1516.6,471.8 L1531.4,471.6 L1536.4,471.0 L1539.8,470.1 L1542.3,468.6 L1544.3,466.5 L1546.1,463.2 L1547.7,458.8 L1549.1,453.3 L1550.4,446.0 L1551.8,436.4 L1554.1,414.6 L1556.3,385.0 L1558.4,352.5 L1562.9,272.9 L1565.0,242.8 L1566.1,230.1 L1567.0,222.6 L1568.2,216.8 L1568.6,215.7 L1569.1,215.3 L1569.5,215.6 L1570.0,216.7 L1571.1,222.2 L1572.2,231.9 L1573.4,245.1 L1575.4,275.9 L1581.3,378.3 L1583.1,404.2 L1585.0,425.2 L1587.0,442.9 L1589.0,455.1 L1590.2,459.9 L1591.3,463.7 L1592.7,466.9 L1594.0,469.2 L1595.4,470.7 L1596.8,471.8 L1598.4,472.6 L1600.2,473.1 L1605.8,473.8 L1617.2,474.4 L1624.5,474.4 L1632.9,474.2 L1665.6,472.1 L1679.7,471.6 L1704.9,471.7 L1725.5,472.1 L1744.4,472.7 L1761.6,473.7" stroke="#8fa5d8"/>
<path d="M168.4,477.8 L434.3,477.5 L437.0,477.2 L441.6,476.0 L449.8,472.5 L457.9,470.8 L466.6,469.6 L470.9,469.3 L471.8,469.5 L474.3,470.8 L475.4,471.1 L475.9,470.9 L476.3,470.2 L478.1,465.8 L478.6,465.1 L479.1,464.7 L479.5,464.8 L480.2,465.2 L482.7,468.4 L483.6,469.2 L484.7,469.2 L486.3,468.5 L487.9,467.3 L492.2,463.4 L497.0,457.9 L497.7,456.8 L498.6,453.3 L499.3,448.2 L501.5,418.3 L502.0,414.7 L502.2,413.8 L502.4,413.7 L502.9,415.4 L503.4,419.6 L505.4,447.6 L506.1,453.5 L506.8,456.9 L507.7,458.8 L508.3,459.4 L509.0,459.6 L512.7,459.8 L514.5,459.5 L516.1,459.1 L517.0,458.6 L517.7,457.7 L518.6,454.9 L519.2,450.2 L519.9,441.6 L521.1,415.4 L523.1,348.8 L523.6,340.3 L524.0,337.2 L524.2,337.8 L524.5,339.8 L525.2,353.4 L526.7,405.2 L527.6,428.9 L528.6,442.7 L529.0,446.5 L529.7,449.5 L530.1,450.4 L530.8,450.9 L531.5,450.6 L534.2,448.4 L535.1,448.3 L535.6,448.8 L536.3,450.3 L537.0,452.5 L540.1,465.1 L540.8,466.8 L541.5,467.7 L542.2,467.7 L543.1,467.0 L546.7,461.6 L547.6,460.7 L548.3,460.4 L549.0,460.4 L549.9,461.0 L553.3,465.0 L554.0,465.4 L554.7,465.4 L555.6,464.3 L558.1,458.6 L558.5,458.0 L559.0,457.8 L559.7,458.1 L560.6,459.2 L563.8,465.8 L565.1,467.8 L565.8,468.0 L570.8,468.0 L572.4,468.0 L573.3,467.7 L574.0,467.1 L574.7,465.5 L575.6,460.3 L576.2,451.8 L576.9,437.0 L578.1,392.7 L580.3,258.4 L581.0,233.1 L581.5,226.7 L581.7,227.0 L581.9,229.6 L582.6,249.9 L585.3,391.2 L586.0,411.3 L586.7,422.5 L587.1,426.2 L587.6,427.9 L588.1,428.3 L589.4,427.0 L589.9,427.0 L590.6,427.9 L591.2,430.0 L592.4,435.8 L595.3,454.8 L596.2,459.2 L597.1,462.5 L598.5,465.9 L599.9,468.4 L601.0,469.8 L602.1,470.5 L602.8,470.1 L603.7,468.6 L604.9,465.5 L608.0,455.4 L608.9,453.6 L609.4,453.1 L609.9,452.9 L610.5,453.5 L611.4,455.6 L614.4,466.0 L615.1,467.5 L615.8,468.0 L616.9,467.7 L618.0,466.8 L623.3,460.2 L624.4,459.3 L625.5,458.8 L626.2,458.9 L627.1,459.7 L630.1,464.3 L631.2,465.4 L636.0,465.3 L637.6,465.1 L638.7,464.7 L639.8,463.9 L641.0,462.3 L642.1,459.8 L644.4,453.8 L645.1,452.6 L645.7,452.1 L646.4,452.4 L647.1,453.3 L649.4,458.5 L650.5,460.6 L651.4,461.6 L652.3,462.1 L653.2,462.3 L654.4,462.1 L658.2,461.0 L661.2,458.1 L661.9,457.8 L662.5,457.8 L664.1,458.2 L665.9,459.1 L672.8,464.2 L674.3,465.1 L675.9,465.8 L682.3,466.3 L693.2,466.7 L700.0,466.7 L701.4,466.3 L703.6,464.6 L708.9,459.3 L710.2,458.3 L711.6,457.8 L712.3,457.8 L712.9,458.5 L715.4,462.7 L716.6,463.2 L717.7,463.2 L718.4,462.7 L719.1,461.8 L721.8,454.8 L722.5,453.8 L722.9,453.7 L723.4,454.0 L724.1,455.4 L726.1,462.3 L727.3,465.2 L728.6,467.1 L729.5,467.6 L730.2,467.7 L731.1,466.9 L732.0,464.4 L734.3,451.4 L734.7,449.7 L735.2,449.3 L735.7,450.2 L736.1,452.2 L738.4,467.2 L739.1,469.7 L739.7,471.2 L740.7,472.1 L742.0,472.4 L746.3,472.3 L751.1,471.8 L759.0,470.6 L760.4,470.1 L762.0,469.1 L764.0,467.3 L766.1,465.1 L773.6,455.3 L776.8,451.7 L778.4,450.2 L779.9,449.1 L781.5,448.5 L782.9,448.3 L783.3,448.4 L784.0,448.9 L785.2,450.6 L786.5,453.7 L790.4,463.6 L791.7,465.9 L792.9,466.8 L799.5,467.8 L803.3,468.0 L804.9,467.9 L805.8,467.4 L807.0,466.4 L811.5,460.8 L812.6,459.9 L813.8,459.6 L814.7,459.9 L815.8,461.0 L820.4,468.2 L821.5,469.4 L822.4,469.8 L830.1,470.9 L838.8,471.6 L847.8,471.9 L861.7,471.9 L863.5,471.7 L865.1,471.1 L866.5,470.1 L869.4,467.4 L870.3,466.9 L871.0,466.8 L871.7,466.9 L872.6,467.4 L875.8,470.4 L877.4,471.4 L879.6,472.0 L882.6,472.0 L884.2,471.7 L885.3,471.0 L886.2,470.0 L887.1,468.3 L888.7,463.3 L891.7,450.4 L892.6,448.1 L893.3,447.5 L893.9,448.1 L894.8,450.4 L897.8,463.3 L899.4,468.3 L900.3,470.0 L901.2,471.0 L902.1,471.6 L903.5,472.0 L906.9,472.1 L938.7,471.6 L1034.7,471.6 L1050.2,471.1 L1067.2,470.0 L1072.2,469.4 L1076.7,468.6 L1078.1,468.0 L1079.5,467.2 L1081.1,465.8 L1083.1,463.6 L1089.9,455.7 L1096.3,447.9 L1098.3,446.1 L1101.9,443.8 L1106.7,441.3 L1110.8,439.8 L1113.8,439.3 L1123.3,438.7 L1125.6,438.1 L1127.8,437.1 L1131.9,434.7 L1142.1,427.3 L1144.6,425.0 L1150.1,419.6 L1152.6,417.5 L1155.3,415.9 L1157.6,415.4 L1158.3,416.0 L1158.9,417.7 L1160.5,424.1 L1162.4,433.5 L1164.4,449.4 L1165.3,455.2 L1167.6,466.4 L1168.3,468.5 L1168.9,469.3 L1217.1,469.5 L1221.6,469.0 L1228.4,467.1 L1231.2,466.8 L1233.9,467.1 L1240.7,469.2 L1244.8,469.8 L1269.1,470.4 L1295.6,471.3 L1301.1,470.9 L1309.3,468.9 L1312.7,468.5 L1315.9,469.1 L1323.6,471.9 L1328.1,472.9 L1339.3,474.0 L1344.5,474.3 L1347.7,474.3 L1349.7,474.0 L1351.5,473.4 L1353.1,472.5 L1354.5,471.2 L1355.6,469.7 L1357.0,467.5 L1362.0,457.7 L1363.3,456.1 L1364.0,455.6 L1364.7,455.5 L1365.4,455.6 L1366.0,456.1 L1367.4,457.7 L1372.4,467.5 L1373.8,469.7 L1374.9,471.2 L1376.3,472.5 L1377.6,473.3 L1379.2,473.9 L1381.3,474.3 L1384.7,474.2 L1394.0,473.2 L1409.4,472.8 L1438.3,472.3 L1515.2,471.4 L1531.4,471.1 L1536.8,470.6 L1539.5,469.8 L1541.6,468.7 L1543.4,466.9 L1545.0,464.5 L1546.4,461.3 L1547.7,457.0 L1549.1,451.2 L1550.2,445.0 L1552.3,430.4 L1554.5,408.6 L1560.4,335.5 L1562.5,313.1 L1563.6,303.5 L1564.5,297.7 L1565.7,293.1 L1566.1,292.2 L1566.6,291.8 L1567.0,291.9 L1567.5,292.6 L1568.6,296.5 L1569.7,303.5 L1570.9,313.2 L1572.9,335.7 L1578.6,407.0 L1580.4,425.6 L1582.2,440.5 L1584.0,451.7 L1586.1,460.5 L1587.2,464.0 L1588.4,466.6 L1589.7,468.9 L1591.1,470.5 L1592.5,471.5 L1593.8,472.2 L1597.4,473.1 L1606.5,473.9 L1618.3,474.4 L1625.4,474.4 L1633.3,474.2 L1665.8,472.1 L1680.1,471.6 L1704.4,471.8 L1725.1,472.2 L1743.9,472.9 L1761.6,473.9" stroke="#344e98"/>
<path d="M168.4,477.8 L385.0,477.6 L426.1,477.2 L436.4,477.0 L437.5,476.7 L439.3,475.3 L441.1,472.7 L443.2,462.9 L445.0,456.3 L445.7,454.8 L447.0,452.6 L448.4,450.9 L449.8,449.6 L451.6,448.4 L453.6,447.4 L460.9,444.9 L466.1,442.5 L468.2,441.9 L470.0,442.0 L473.6,443.2 L475.2,443.4 L476.1,443.0 L478.4,441.1 L479.3,440.8 L480.6,441.5 L484.3,444.7 L485.2,444.9 L486.3,444.7 L488.4,443.2 L491.8,439.3 L494.9,432.3 L497.0,428.9 L497.4,427.4 L497.9,424.7 L498.8,413.4 L499.7,391.4 L501.3,341.3 L501.8,332.8 L502.0,330.7 L502.2,330.3 L502.7,334.2 L503.1,344.1 L505.4,418.1 L505.8,427.4 L506.5,436.4 L507.4,442.3 L508.1,444.3 L509.0,445.7 L510.2,446.7 L511.5,447.2 L513.3,447.1 L515.2,446.4 L517.0,445.0 L517.7,443.9 L518.1,442.7 L519.0,437.5 L519.7,429.4 L520.4,415.8 L521.1,395.3 L523.1,314.3 L523.6,302.8 L524.0,297.6 L524.2,297.6 L524.5,299.4 L525.2,314.1 L527.0,384.4 L527.9,411.3 L528.8,426.6 L529.2,430.7 L529.9,434.1 L530.6,435.5 L531.3,436.0 L534.9,436.0 L535.6,436.6 L536.3,438.2 L537.0,440.5 L539.5,451.6 L540.4,454.8 L541.3,456.7 L541.7,457.0 L542.2,457.0 L543.1,456.7 L543.8,456.2 L544.9,454.4 L545.8,451.5 L547.6,443.4 L548.1,442.0 L548.5,441.4 L549.0,441.4 L549.4,442.2 L551.3,448.1 L551.9,449.7 L552.4,450.3 L552.9,450.5 L553.3,450.4 L553.8,449.9 L554.4,448.3 L555.1,445.3 L557.2,431.6 L557.6,430.0 L557.9,429.7 L558.1,429.8 L558.5,431.2 L559.0,434.1 L560.6,448.9 L561.5,455.7 L562.4,459.7 L563.3,461.7 L564.4,463.0 L565.8,463.4 L576.7,463.1 L578.3,462.9 L579.2,462.4 L579.9,461.4 L580.6,459.3 L581.5,452.9 L582.4,438.3 L583.1,418.8 L584.4,348.9 L586.9,161.7 L587.6,132.8 L588.1,126.1 L588.3,126.9 L588.7,136.7 L589.4,169.5 L591.7,341.9 L593.0,414.3 L593.7,434.9 L594.6,450.3 L595.1,454.5 L595.8,458.1 L596.5,459.7 L597.4,460.4 L598.7,460.5 L600.8,460.0 L602.4,458.8 L603.5,457.2 L604.2,455.6 L604.9,452.8 L605.8,444.9 L606.7,428.3 L607.4,407.4 L609.9,299.2 L610.3,289.3 L610.5,287.2 L610.8,287.0 L611.2,292.5 L611.7,304.7 L613.5,382.1 L614.4,411.8 L614.8,421.6 L615.5,431.0 L616.2,435.8 L616.9,437.9 L617.3,438.6 L618.0,439.1 L619.2,439.3 L620.1,439.3 L620.8,438.9 L621.2,438.4 L622.1,436.2 L622.8,433.3 L623.5,428.9 L625.7,410.3 L626.2,408.1 L626.7,407.2 L627.1,407.8 L627.8,411.1 L630.1,431.8 L631.0,438.2 L632.1,442.8 L632.6,443.7 L633.2,444.6 L634.2,444.9 L635.1,444.7 L641.6,440.5 L642.8,440.0 L643.9,439.8 L644.6,440.1 L645.3,440.9 L648.2,446.0 L648.9,446.6 L649.6,446.7 L650.3,446.4 L651.2,445.5 L655.0,439.5 L656.0,438.7 L656.9,438.6 L658.0,439.5 L659.1,441.4 L662.8,450.3 L664.1,453.2 L665.3,454.8 L665.7,455.1 L666.4,455.2 L667.8,454.6 L669.3,452.9 L674.1,445.1 L675.9,442.6 L677.5,441.3 L678.2,441.1 L678.9,441.2 L679.6,441.5 L680.5,442.3 L682.1,444.6 L687.3,455.5 L688.9,458.4 L690.5,460.4 L691.8,461.1 L692.7,461.0 L693.6,460.7 L695.5,459.2 L697.5,456.8 L702.5,449.9 L703.9,448.4 L705.2,447.3 L706.6,446.8 L708.0,446.9 L709.3,447.9 L713.2,451.5 L714.3,452.1 L715.2,452.1 L716.4,451.4 L717.5,450.3 L721.6,444.2 L722.9,442.4 L724.1,441.5 L725.2,441.1 L725.9,441.3 L726.6,441.9 L729.5,445.7 L730.2,446.4 L730.9,446.7 L731.3,446.7 L732.0,446.2 L734.5,442.9 L735.2,442.6 L735.7,442.9 L736.3,444.2 L737.0,446.4 L740.4,461.2 L741.1,463.1 L741.8,464.1 L745.0,464.1 L754.1,463.2 L764.3,463.1 L765.2,462.7 L766.1,461.9 L768.1,459.1 L769.9,455.8 L774.5,446.3 L776.5,442.8 L778.4,440.6 L779.3,440.0 L780.2,439.8 L781.3,440.4 L782.7,442.3 L787.7,453.5 L788.8,455.4 L789.7,456.4 L790.4,456.7 L791.5,456.7 L795.8,455.4 L797.7,455.2 L799.2,455.8 L802.2,458.0 L803.3,458.6 L805.1,458.9 L806.3,458.6 L807.2,457.7 L808.1,455.4 L808.8,452.3 L809.5,447.4 L810.8,431.6 L813.3,392.1 L814.0,385.4 L814.5,383.4 L814.7,383.1 L814.9,383.4 L815.4,385.5 L816.0,392.3 L818.5,432.2 L819.5,443.9 L820.6,453.3 L821.7,458.0 L822.6,459.8 L823.5,460.6 L824.7,461.1 L827.2,461.7 L829.9,463.1 L831.7,462.9 L836.0,461.2 L837.2,461.1 L838.1,461.4 L839.2,462.1 L840.3,463.3 L845.3,469.2 L846.7,470.2 L847.8,470.6 L855.8,471.1 L861.0,471.0 L863.3,469.9 L868.5,465.8 L869.9,465.1 L871.0,465.0 L872.1,465.1 L873.5,465.7 L878.0,469.0 L879.6,469.8 L882.6,470.3 L884.4,470.0 L885.8,468.7 L887.1,465.9 L888.5,461.1 L891.2,449.1 L892.1,446.7 L892.8,446.2 L893.5,446.9 L894.4,449.4 L897.3,462.9 L898.9,468.3 L899.8,470.1 L900.7,471.2 L901.9,472.0 L903.5,472.4 L914.4,473.0 L923.5,473.2 L929.1,472.7 L941.6,470.7 L947.3,470.2 L952.8,470.1 L973.2,470.6 L977.0,470.0 L985.9,467.7 L989.8,467.3 L990.9,467.4 L992.0,467.9 L997.0,471.7 L998.2,472.4 L999.3,472.6 L1020.4,472.5 L1040.6,472.1 L1044.9,471.8 L1049.5,471.1 L1052.7,470.5 L1054.5,469.6 L1056.5,468.1 L1061.8,463.4 L1064.5,461.7 L1066.5,461.3 L1075.8,460.9 L1076.7,460.5 L1077.6,459.9 L1082.0,455.1 L1083.6,452.5 L1085.1,448.2 L1088.1,437.6 L1088.8,436.0 L1089.5,435.2 L1090.1,435.2 L1091.0,436.4 L1093.5,442.6 L1094.7,444.7 L1095.6,445.7 L1096.7,446.2 L1097.9,446.1 L1099.2,445.5 L1107.2,440.9 L1111.3,439.2 L1114.0,438.7 L1122.8,438.3 L1125.1,437.8 L1127.8,436.6 L1130.8,434.9 L1141.7,427.1 L1144.4,424.6 L1150.5,418.2 L1153.0,416.0 L1155.3,414.7 L1157.6,414.2 L1158.0,414.4 L1158.5,414.9 L1159.4,417.0 L1160.5,421.0 L1161.7,426.0 L1162.4,431.2 L1164.2,451.5 L1165.5,459.9 L1166.7,465.5 L1167.3,467.6 L1167.8,468.4 L1171.2,469.2 L1175.3,469.5 L1178.9,469.5 L1181.9,469.0 L1189.4,467.1 L1193.2,466.8 L1195.3,467.5 L1199.1,470.2 L1200.7,471.1 L1202.1,471.4 L1204.6,471.2 L1210.0,470.1 L1219.6,466.9 L1221.8,466.0 L1228.4,462.7 L1230.5,462.0 L1232.3,461.9 L1234.3,462.1 L1236.4,462.5 L1243.9,465.1 L1246.8,465.8 L1262.7,467.1 L1271.1,467.5 L1279.1,467.5 L1307.9,466.6 L1317.0,466.6 L1321.8,467.6 L1331.8,470.9 L1339.9,473.2 L1343.1,473.6 L1346.5,473.5 L1348.6,473.1 L1350.4,472.3 L1352.0,471.0 L1353.3,469.3 L1354.5,467.3 L1355.8,464.4 L1361.1,450.2 L1362.4,447.9 L1363.1,447.3 L1363.8,447.0 L1364.5,447.1 L1365.1,447.7 L1366.5,449.8 L1367.9,453.0 L1371.5,462.6 L1372.9,465.5 L1374.0,467.4 L1375.4,469.1 L1376.7,470.2 L1378.3,471.0 L1380.4,471.4 L1390.8,472.6 L1401.9,472.6 L1425.5,472.3 L1479.6,471.0 L1536.6,470.1 L1538.9,469.8 L1540.7,469.3 L1542.3,468.5 L1543.9,467.3 L1545.2,465.7 L1546.6,463.6 L1548.8,458.3 L1550.9,451.3 L1552.9,442.2 L1559.1,407.0 L1561.1,396.7 L1562.2,392.4 L1563.2,389.9 L1564.3,387.9 L1565.2,387.5 L1566.1,388.0 L1567.2,390.0 L1568.4,393.5 L1569.5,398.1 L1571.3,407.5 L1577.0,440.9 L1578.8,449.7 L1580.6,456.8 L1582.7,462.7 L1584.7,466.7 L1587.0,469.5 L1588.4,470.5 L1589.7,471.3 L1592.2,472.1 L1595.6,472.6 L1612.9,474.3 L1621.1,474.7 L1630.6,474.6 L1642.4,474.0 L1657.9,473.0 L1673.7,471.4 L1680.1,471.1 L1688.5,471.4 L1704.6,473.0 L1711.4,473.4 L1738.5,474.0 L1761.6,474.2" stroke="#1f2b5c"/>
</g>
<g fill="none" stroke-width="3.0" stroke-linejoin="round" stroke-linecap="round">
<path d="M168.3,1043.0 L188.6,1042.7 L207.7,1042.2 L221.1,1041.3 L227.0,1040.3 L230.6,1039.2 L234.1,1037.9 L235.4,1037.2 L236.4,1036.1 L237.3,1033.4 L239.2,1023.6 L239.6,1022.5 L240.0,1022.2 L240.4,1022.0 L241.0,1022.3 L242.9,1025.1 L244.0,1026.2 L245.0,1026.8 L246.3,1027.1 L247.1,1027.1 L247.5,1026.6 L248.8,1023.3 L253.2,1004.6 L254.9,996.2 L256.3,985.7 L259.1,959.6 L259.9,956.3 L261.2,955.4 L261.6,954.2 L262.2,949.5 L262.6,943.9 L263.5,925.1 L264.5,886.9 L267.9,712.6 L268.7,686.6 L269.3,679.4 L269.6,679.5 L269.8,681.1 L270.2,687.9 L271.0,715.9 L274.2,894.0 L275.6,956.7 L276.5,979.9 L277.3,995.4 L278.4,1006.8 L279.0,1010.6 L279.6,1012.9 L280.2,1014.1 L280.9,1014.2 L281.5,1013.4 L282.1,1011.4 L283.2,1004.6 L284.0,994.6 L285.5,963.8 L288.4,874.5 L289.1,862.6 L289.7,857.3 L289.9,857.1 L290.3,859.2 L291.1,872.3 L294.1,957.6 L294.9,976.4 L295.8,989.5 L296.8,998.9 L297.4,1001.6 L298.1,1002.7 L298.5,1002.6 L298.7,1002.3 L299.3,1000.3 L300.4,992.4 L301.6,971.3 L302.7,939.8 L303.7,893.8 L306.5,748.0 L307.3,720.7 L307.7,714.1 L307.9,712.8 L308.1,712.8 L308.5,716.4 L309.0,724.5 L309.8,752.6 L313.0,916.7 L314.4,974.9 L315.3,997.0 L316.3,1015.2 L317.4,1025.6 L318.6,1032.0 L319.9,1034.9 L321.3,1036.4 L322.4,1036.9 L323.2,1036.9 L323.9,1036.4 L324.5,1035.6 L325.9,1032.3 L329.5,1021.7 L331.0,1018.2 L332.2,1016.4 L333.9,1015.8 L334.5,1015.3 L335.2,1014.5 L335.8,1013.2 L337.1,1008.8 L339.2,998.5 L339.8,996.5 L340.4,995.8 L340.8,996.2 L341.5,998.0 L344.2,1011.7 L345.0,1014.6 L345.9,1016.3 L346.5,1017.0 L347.1,1017.4 L347.8,1017.4 L349.2,1016.8 L350.1,1017.1 L350.9,1018.5 L353.0,1023.7 L354.0,1025.4 L355.5,1026.6 L359.1,1028.3 L360.5,1029.3 L361.8,1030.7 L364.9,1035.2 L366.4,1036.6 L367.7,1036.9 L368.9,1036.8 L369.8,1036.5 L370.8,1035.4 L371.7,1033.3 L372.9,1026.6 L375.0,1008.9 L375.6,1005.5 L376.1,1004.6 L376.3,1004.6 L376.5,1004.9 L377.1,1007.5 L379.0,1022.4 L379.8,1027.7 L380.7,1030.9 L381.5,1032.4 L382.1,1032.8 L383.2,1032.8 L387.8,1030.9 L394.5,1030.1 L396.6,1029.2 L399.1,1027.4 L400.2,1027.1 L401.0,1027.5 L401.8,1028.5 L404.4,1033.4 L405.4,1035.0 L406.5,1036.1 L406.9,1036.2 L407.1,1036.1 L407.7,1034.4 L408.3,1031.3 L411.3,1010.3 L413.6,1000.6 L414.6,994.2 L415.7,984.6 L417.8,959.1 L418.6,952.1 L419.0,950.4 L419.2,949.9 L419.4,949.8 L419.7,949.8 L421.5,954.7 L422.0,954.9 L422.4,954.2 L422.8,952.5 L423.4,948.0 L424.5,936.0 L426.2,906.0 L427.8,864.1 L432.7,702.4 L434.1,659.9 L435.6,632.0 L436.2,625.9 L436.8,623.5 L437.1,623.6 L437.5,625.1 L438.3,633.4 L439.2,648.3 L440.0,669.0 L441.5,716.1 L445.9,879.0 L447.5,927.6 L449.0,959.6 L450.9,987.5 L452.2,1000.2 L453.4,1009.9 L454.7,1017.3 L456.1,1023.5 L457.6,1027.2 L458.2,1028.0 L459.1,1028.6 L459.7,1028.7 L460.1,1028.5 L461.0,1027.6 L461.8,1025.8 L463.7,1020.1 L464.1,1019.4 L464.5,1019.1 L464.9,1019.3 L465.6,1020.5 L468.1,1029.2 L468.7,1030.7 L469.6,1031.9 L470.2,1032.4 L471.0,1032.6 L472.9,1032.3 L473.7,1031.8 L474.6,1031.1 L475.6,1029.3 L476.7,1025.9 L477.7,1019.6 L478.8,1009.9 L481.1,983.5 L481.9,977.9 L482.1,977.2 L482.6,976.7 L483.2,978.0 L483.8,981.4 L487.0,1009.4 L487.8,1014.7 L488.8,1018.9 L489.5,1020.3 L490.1,1021.3 L492.6,1023.3 L496.0,1027.9 L497.2,1029.3 L498.1,1029.7 L499.1,1029.4 L500.0,1028.8 L501.0,1027.4 L502.0,1025.4 L503.1,1022.6 L503.9,1019.7 L504.8,1015.7 L506.0,1007.1 L508.5,984.2 L509.2,980.2 L509.8,978.0 L510.2,977.6 L510.9,978.5 L513.4,989.0 L514.0,990.9 L514.8,992.3 L515.7,992.7 L516.5,992.1 L517.4,990.3 L518.0,987.9 L519.0,981.4 L519.9,973.5 L523.2,930.3 L523.8,925.5 L524.5,923.6 L524.9,924.1 L525.3,925.9 L526.2,933.2 L530.3,997.3 L531.8,1012.6 L533.3,1021.8 L534.3,1025.9 L535.8,1029.6 L537.5,1032.1 L538.5,1033.1 L539.4,1033.5 L540.2,1033.7 L541.0,1033.4 L542.7,1031.8 L544.2,1029.2 L545.4,1025.7 L546.5,1021.5 L547.3,1017.0 L549.0,1004.5 L550.7,985.9 L552.2,963.6 L553.6,935.0 L555.1,900.5 L559.9,764.5 L561.6,722.9 L562.6,702.4 L563.5,690.1 L564.5,680.6 L564.9,678.7 L565.4,677.9 L565.8,678.3 L566.2,679.9 L567.0,686.3 L567.9,696.9 L568.9,715.6 L570.8,760.7 L574.6,868.1 L576.5,916.5 L578.4,955.7 L580.5,987.3 L581.5,998.7 L582.8,1009.0 L584.0,1016.3 L585.5,1022.3 L587.6,1028.3 L590.1,1033.4 L591.6,1035.6 L592.8,1037.2 L594.1,1038.3 L595.1,1038.8 L601.4,1039.6 L609.6,1040.2 L638.1,1040.1 L640.4,1039.8 L642.1,1039.2 L643.3,1038.0 L644.6,1036.0 L645.9,1032.6 L646.9,1028.2 L648.0,1022.0 L649.0,1013.6 L651.1,990.2 L654.5,941.7 L655.7,926.0 L656.6,918.0 L657.2,913.8 L657.8,911.4 L658.2,910.8 L658.4,910.8 L659.1,912.0 L659.7,915.0 L661.0,925.9 L662.2,941.7 L665.8,992.8 L667.0,1007.4 L668.3,1018.7 L669.8,1027.9 L671.2,1033.7 L672.1,1035.7 L673.1,1037.5 L674.2,1038.5 L675.4,1039.2 L677.3,1039.7 L680.5,1039.8 L697.0,1039.5 L701.2,1039.2 L702.7,1038.9 L704.1,1038.3 L705.6,1037.3 L709.0,1034.5 L710.0,1034.0 L710.8,1033.9 L711.7,1034.0 L712.7,1034.5 L716.9,1037.7 L719.2,1038.5 L721.3,1038.7 L724.7,1038.6 L732.7,1037.9 L737.3,1037.1 L740.2,1036.1 L742.7,1034.6 L747.5,1030.6 L749.0,1029.9 L750.3,1029.7 L751.3,1029.8 L752.6,1030.3 L756.3,1032.7 L758.2,1033.6 L760.1,1034.2 L762.2,1034.6 L771.9,1035.3 L775.4,1035.3 L776.7,1034.9 L777.9,1034.3 L781.9,1031.5 L783.4,1031.1 L784.2,1031.3 L785.3,1031.9 L788.6,1035.3 L790.1,1036.5 L791.6,1037.3 L793.0,1037.7 L796.8,1038.0 L801.0,1036.8 L802.7,1036.6 L805.4,1036.8 L812.3,1038.0 L819.0,1038.1 L822.2,1037.6 L824.9,1036.4 L827.4,1034.4 L832.6,1029.2 L834.3,1028.2 L835.8,1027.9 L837.5,1028.2 L839.1,1029.3 L844.8,1035.3 L847.3,1037.4 L849.8,1038.7 L853.0,1039.5 L859.7,1039.9 L907.1,1039.9 L912.5,1039.7 L915.9,1039.2 L917.3,1038.7 L918.6,1037.9 L919.9,1036.9 L920.9,1035.7 L922.8,1032.5 L924.7,1027.6 L926.4,1021.7 L928.0,1014.2 L933.3,985.4 L935.0,977.4 L936.0,973.5 L936.8,971.1 L937.9,969.4 L938.7,968.9 L939.6,969.4 L940.6,971.1 L941.5,973.5 L942.5,977.4 L944.4,986.5 L949.0,1012.1 L951.5,1023.3 L952.8,1027.6 L954.0,1031.0 L955.3,1033.7 L956.8,1035.9 L958.2,1037.5 L959.9,1038.6 L962.0,1039.3 L964.5,1039.7 L970.0,1039.9 L988.4,1039.8 L992.2,1039.6 L994.5,1039.2 L996.0,1038.4 L997.0,1037.4 L998.1,1035.8 L998.9,1033.9 L999.7,1031.2 L1000.6,1027.6 L1002.0,1018.5 L1003.3,1007.2 L1004.8,989.7 L1008.5,932.6 L1010.0,913.5 L1010.8,905.6 L1011.5,901.5 L1012.1,899.1 L1012.5,898.4 L1012.9,898.3 L1013.6,899.1 L1014.4,901.9 L1015.9,910.8 L1020.7,955.8 L1022.8,972.1 L1024.7,982.4 L1025.7,986.6 L1027.0,990.5 L1028.7,994.4 L1034.3,1005.4 L1042.7,1024.7 L1045.2,1029.3 L1047.5,1032.7 L1049.2,1034.6 L1051.1,1036.2 L1053.0,1037.4 L1055.1,1038.3 L1057.8,1039.0 L1060.7,1039.4 L1062.6,1039.1 L1064.5,1038.4 L1066.6,1037.2 L1067.2,1036.2 L1068.3,1032.8 L1069.3,1027.5 L1071.0,1016.5 L1074.6,989.5 L1077.9,956.7 L1079.0,951.4 L1081.1,944.9 L1082.7,941.6 L1085.1,938.9 L1088.2,936.5 L1095.3,932.7 L1098.5,930.5 L1103.1,925.8 L1108.5,919.0 L1116.7,907.7 L1122.0,899.1 L1124.3,894.7 L1126.6,889.7 L1128.5,885.0 L1130.3,879.5 L1132.2,873.1 L1133.5,867.7 L1135.2,859.0 L1136.8,848.7 L1138.3,837.8 L1141.9,803.8 L1144.6,786.6 L1145.6,780.9 L1146.7,776.4 L1147.5,774.2 L1147.9,773.6 L1148.4,773.4 L1149.2,773.8 L1150.3,775.1 L1152.4,779.7 L1156.5,791.4 L1160.5,806.7 L1162.0,811.6 L1162.8,813.7 L1163.7,815.3 L1166.8,819.0 L1168.3,821.6 L1169.1,824.3 L1170.2,830.4 L1172.3,849.1 L1174.2,872.2 L1177.7,947.1 L1179.8,995.6 L1180.9,1013.4 L1181.5,1018.6 L1183.2,1026.1 L1184.6,1030.4 L1185.3,1031.6 L1186.1,1032.6 L1189.5,1034.6 L1193.0,1035.8 L1197.6,1036.4 L1206.0,1037.1 L1216.5,1037.3 L1219.6,1036.9 L1227.0,1035.6 L1230.8,1035.3 L1233.7,1035.8 L1241.0,1038.4 L1245.8,1038.7 L1260.7,1039.2 L1271.6,1039.3 L1276.0,1038.8 L1277.7,1038.3 L1279.2,1037.5 L1281.5,1035.6 L1283.4,1032.9 L1285.3,1028.9 L1286.9,1024.1 L1288.6,1017.9 L1290.3,1010.4 L1295.7,981.2 L1297.8,971.4 L1298.9,967.5 L1299.9,964.7 L1301.0,962.8 L1301.6,962.3 L1302.0,962.2 L1302.5,962.3 L1303.1,962.7 L1304.1,964.5 L1305.2,967.3 L1306.2,971.0 L1308.3,980.8 L1314.0,1011.1 L1315.9,1019.4 L1317.5,1025.4 L1319.4,1030.5 L1321.3,1034.1 L1322.4,1035.5 L1323.6,1036.9 L1326.1,1038.5 L1328.0,1039.2 L1330.1,1039.6 L1336.8,1039.8 L1401.0,1039.6 L1414.8,1039.5 L1419.2,1039.2 L1423.0,1038.4 L1425.9,1036.8 L1428.7,1034.2 L1434.3,1027.4 L1436.0,1026.1 L1437.7,1025.7 L1438.9,1025.9 L1440.4,1026.7 L1441.9,1028.0 L1446.9,1033.1 L1448.8,1034.5 L1450.7,1035.3 L1453.2,1035.9 L1456.1,1035.9 L1460.7,1035.3 L1463.9,1034.6 L1467.4,1033.1 L1468.9,1032.1 L1470.4,1030.9 L1472.7,1028.0 L1474.6,1024.3 L1476.2,1019.5 L1477.9,1012.7 L1479.4,1004.6 L1480.9,994.2 L1483.4,969.9 L1485.9,937.2 L1488.2,900.4 L1493.0,816.0 L1495.3,781.7 L1496.6,767.3 L1497.6,758.4 L1498.9,751.7 L1499.5,750.1 L1499.9,749.8 L1500.6,750.1 L1501.2,751.4 L1501.8,753.6 L1502.7,757.9 L1504.1,769.1 L1505.6,784.2 L1508.1,817.4 L1515.2,924.9 L1517.5,954.0 L1519.6,975.8 L1521.7,993.1 L1524.0,1007.4 L1525.3,1013.3 L1526.6,1018.2 L1527.8,1022.1 L1529.3,1025.7 L1530.8,1028.5 L1532.4,1031.0 L1534.3,1033.1 L1536.6,1034.9 L1539.3,1036.5 L1542.3,1037.7 L1545.6,1038.7 L1549.2,1039.4 L1560.5,1040.4 L1579.0,1041.2 L1635.8,1041.7" stroke="#d60000"/>
<path d="M168.3,1042.6 L177.3,1040.6 L183.0,1039.9 L223.4,1039.5 L224.1,1038.9 L224.7,1037.7 L227.4,1030.3 L228.0,1029.2 L228.7,1028.8 L229.3,1029.0 L229.9,1029.6 L232.2,1033.1 L233.1,1034.1 L233.9,1034.4 L235.4,1034.0 L237.3,1032.6 L239.4,1030.1 L241.7,1026.5 L244.4,1021.5 L245.7,1017.1 L248.4,1003.9 L249.4,1000.7 L249.8,1000.1 L250.3,1000.0 L253.2,1000.7 L253.8,1000.2 L254.3,999.3 L254.9,996.3 L255.5,989.8 L256.6,966.2 L257.4,932.0 L259.3,830.9 L259.9,810.7 L260.3,806.3 L260.8,810.0 L261.4,829.7 L263.5,946.6 L264.5,987.9 L265.2,1002.5 L265.8,1011.3 L266.6,1017.4 L267.3,1019.7 L267.9,1021.0 L268.9,1022.3 L270.0,1023.0 L270.8,1023.3 L271.7,1023.0 L272.3,1022.2 L272.7,1021.2 L273.7,1016.6 L274.6,1009.7 L275.4,999.3 L278.2,953.4 L278.8,946.5 L279.4,943.5 L279.6,943.4 L280.0,944.6 L280.7,949.5 L283.4,988.0 L284.2,996.5 L285.1,1001.9 L285.7,1004.3 L286.3,1005.6 L287.2,1006.3 L288.4,1006.2 L289.5,1005.5 L290.3,1004.2 L290.9,1002.4 L291.6,999.5 L292.8,988.5 L293.9,971.9 L294.9,947.2 L297.6,867.8 L298.5,852.6 L298.9,848.8 L299.1,848.0 L299.3,848.0 L300.0,852.3 L300.8,867.8 L303.9,966.9 L305.4,1001.0 L306.2,1013.4 L307.3,1023.3 L308.5,1029.7 L309.4,1032.2 L310.2,1034.0 L312.1,1036.6 L314.4,1038.7 L316.5,1039.7 L318.4,1039.8 L319.9,1039.1 L321.5,1037.7 L326.8,1031.5 L328.7,1029.5 L330.4,1028.4 L331.8,1028.0 L332.9,1028.3 L333.9,1028.8 L338.5,1033.1 L339.6,1033.9 L340.6,1034.3 L342.7,1034.4 L352.6,1033.9 L355.9,1034.3 L360.7,1035.4 L362.2,1035.4 L363.5,1034.5 L364.5,1032.7 L365.6,1029.6 L367.7,1022.1 L368.3,1020.7 L368.9,1020.2 L369.6,1020.7 L370.4,1022.8 L372.7,1032.1 L373.7,1035.4 L375.0,1037.6 L376.3,1038.5 L377.9,1038.4 L380.0,1037.6 L382.6,1036.1 L389.9,1030.9 L392.2,1029.7 L394.1,1029.1 L395.8,1029.0 L397.2,1029.3 L401.6,1031.8 L403.1,1032.4 L404.1,1032.6 L404.8,1032.0 L406.0,1028.4 L408.3,1018.0 L409.4,1014.2 L410.0,1012.7 L411.5,1011.3 L412.3,1010.0 L413.2,1007.8 L413.8,1005.3 L414.6,1000.6 L415.5,993.7 L416.9,974.0 L418.4,941.7 L419.7,902.2 L424.7,692.2 L425.9,661.7 L426.6,654.9 L426.8,654.1 L427.0,653.9 L427.4,655.7 L428.0,663.6 L429.3,696.5 L434.1,906.9 L435.6,956.0 L437.1,990.1 L437.9,1003.6 L438.7,1013.5 L439.6,1020.7 L440.6,1026.7 L441.7,1030.6 L443.1,1033.7 L444.0,1034.8 L445.0,1035.7 L447.3,1036.9 L449.2,1037.3 L451.1,1037.2 L453.0,1036.7 L458.0,1034.8 L460.5,1034.4 L462.0,1035.0 L464.9,1037.9 L466.2,1038.7 L466.8,1038.9 L468.3,1038.9 L470.4,1038.4 L471.9,1037.3 L473.1,1035.4 L474.4,1032.4 L476.9,1025.1 L477.7,1023.5 L478.6,1022.9 L479.2,1023.3 L480.0,1024.6 L483.4,1034.0 L484.4,1036.1 L485.5,1037.4 L486.7,1038.3 L488.6,1038.7 L492.4,1038.8 L494.1,1038.2 L496.2,1036.7 L501.2,1031.5 L503.5,1029.7 L505.4,1029.0 L509.2,1029.1 L510.4,1028.9 L511.5,1028.4 L512.3,1027.5 L513.4,1025.3 L514.2,1022.6 L517.8,1004.5 L518.6,1001.7 L519.2,1000.9 L519.9,1001.4 L520.7,1003.8 L524.5,1025.3 L525.5,1029.6 L526.8,1032.7 L527.8,1034.2 L528.9,1035.0 L530.3,1035.5 L532.4,1035.8 L534.1,1035.7 L535.6,1035.2 L536.6,1034.4 L537.7,1032.9 L538.9,1030.3 L540.0,1027.5 L542.3,1019.0 L544.4,1008.0 L546.5,993.3 L548.4,976.8 L550.5,954.8 L556.1,882.2 L558.0,861.3 L559.1,852.2 L560.1,845.5 L561.2,841.6 L561.6,840.8 L562.0,840.5 L562.4,840.7 L562.8,841.4 L563.9,845.1 L564.9,851.5 L566.0,860.4 L567.9,881.4 L572.5,942.7 L574.8,969.9 L577.3,992.7 L578.6,1001.4 L579.8,1008.3 L581.5,1015.2 L583.6,1021.4 L585.9,1026.3 L588.6,1030.5 L591.4,1033.6 L594.1,1035.6 L596.6,1036.5 L602.5,1037.8 L607.5,1038.6 L612.1,1038.9 L635.0,1038.9 L639.4,1038.5 L640.8,1038.0 L642.1,1037.2 L643.3,1035.8 L644.4,1034.0 L646.3,1029.1 L648.4,1020.5 L652.8,998.3 L654.2,993.7 L654.9,992.7 L655.5,992.4 L656.1,992.7 L656.8,993.7 L658.0,997.5 L659.3,1003.0 L663.1,1022.4 L664.3,1027.6 L665.6,1031.6 L667.0,1034.8 L668.5,1036.8 L670.4,1038.1 L672.7,1038.7 L676.9,1038.9 L686.9,1038.8 L700.2,1038.5 L703.7,1038.2 L705.4,1037.6 L706.9,1036.6 L708.3,1035.0 L711.5,1030.9 L712.5,1030.1 L713.4,1029.9 L714.2,1030.1 L715.3,1030.9 L718.6,1035.1 L720.1,1036.5 L721.7,1037.4 L723.6,1037.9 L727.8,1038.0 L770.0,1038.0 L774.4,1037.9 L776.5,1037.3 L778.4,1036.2 L780.0,1034.6 L783.4,1030.6 L784.4,1029.7 L785.3,1029.4 L786.3,1029.4 L787.4,1029.9 L790.7,1033.3 L792.0,1034.2 L793.2,1034.6 L794.5,1034.3 L795.8,1033.4 L797.0,1031.9 L801.0,1025.2 L802.5,1023.1 L803.7,1021.9 L805.0,1021.5 L805.6,1021.6 L806.4,1022.0 L807.9,1023.5 L809.4,1025.8 L813.2,1032.4 L815.7,1035.7 L816.9,1036.8 L818.4,1037.7 L819.9,1038.3 L821.5,1038.7 L824.5,1038.9 L827.8,1038.6 L841.9,1035.7 L845.0,1035.3 L848.0,1035.1 L851.9,1035.6 L860.7,1038.3 L864.7,1038.9 L870.2,1038.6 L882.5,1036.7 L888.2,1036.2 L895.8,1036.6 L911.7,1038.5 L914.8,1038.6 L917.6,1038.5 L920.7,1038.0 L923.2,1037.2 L925.5,1035.9 L927.6,1034.2 L929.5,1032.2 L931.6,1029.4 L937.9,1019.1 L940.2,1015.8 L942.5,1013.6 L943.8,1012.9 L944.8,1012.8 L945.9,1012.9 L946.9,1013.4 L949.0,1015.2 L951.3,1018.4 L957.0,1027.9 L959.9,1032.2 L961.6,1034.2 L963.3,1035.8 L964.9,1037.0 L966.6,1037.9 L970.4,1039.2 L975.6,1039.7 L995.1,1039.8 L1002.0,1039.5 L1005.0,1038.8 L1007.1,1037.3 L1009.0,1034.8 L1010.6,1031.2 L1012.1,1026.7 L1013.8,1019.9 L1018.4,995.9 L1020.1,988.3 L1020.9,985.4 L1021.7,983.4 L1022.6,982.2 L1023.6,981.8 L1024.5,982.0 L1025.5,982.9 L1027.4,986.2 L1029.3,991.0 L1034.1,1005.6 L1036.6,1012.4 L1039.6,1018.8 L1042.9,1024.4 L1045.2,1027.5 L1047.5,1030.2 L1050.0,1032.8 L1052.4,1034.6 L1054.7,1036.1 L1057.0,1037.2 L1059.5,1038.0 L1062.4,1038.5 L1066.0,1038.7 L1070.2,1038.7 L1088.6,1037.4 L1097.0,1037.1 L1100.1,1037.5 L1107.9,1039.4 L1111.3,1039.9 L1132.9,1039.8 L1136.4,1039.4 L1138.9,1038.6 L1140.8,1037.5 L1142.5,1035.9 L1144.0,1033.8 L1145.4,1031.0 L1146.9,1027.4 L1148.4,1023.0 L1153.2,1005.8 L1154.9,1000.5 L1155.9,998.0 L1156.8,996.4 L1157.8,995.2 L1158.6,994.9 L1159.7,995.2 L1160.7,996.2 L1161.8,997.8 L1162.8,999.9 L1164.7,1004.9 L1170.6,1022.4 L1172.7,1027.5 L1174.6,1031.0 L1176.7,1033.8 L1179.2,1035.9 L1181.9,1037.1 L1185.3,1037.8 L1203.7,1039.0 L1215.9,1039.5 L1269.3,1039.8 L1276.9,1039.6 L1281.9,1039.1 L1284.8,1038.5 L1287.4,1037.6 L1289.9,1036.4 L1292.2,1035.0 L1294.5,1033.1 L1296.8,1030.9 L1304.3,1022.4 L1307.3,1019.5 L1309.0,1018.2 L1310.6,1017.2 L1312.1,1016.7 L1313.6,1016.6 L1315.0,1016.8 L1316.5,1017.3 L1318.0,1018.1 L1319.6,1019.4 L1322.6,1022.3 L1330.1,1030.7 L1332.6,1033.1 L1334.9,1034.9 L1337.5,1036.4 L1340.0,1037.5 L1342.9,1038.4 L1346.1,1038.9 L1350.5,1039.3 L1356.3,1039.4 L1386.1,1039.0 L1421.1,1038.0 L1436.0,1037.1 L1469.7,1037.7 L1474.4,1037.6 L1477.7,1037.3 L1480.9,1036.6 L1483.4,1035.6 L1485.7,1034.1 L1487.8,1032.0 L1489.7,1029.5 L1491.5,1026.1 L1493.4,1021.7 L1495.1,1016.9 L1498.0,1006.1 L1501.2,991.2 L1504.1,974.6 L1510.2,937.4 L1513.4,921.0 L1515.0,914.3 L1516.5,909.9 L1517.3,908.0 L1518.2,906.7 L1519.0,906.0 L1519.6,905.8 L1520.3,906.0 L1521.1,906.6 L1521.9,907.8 L1522.8,909.6 L1524.5,914.6 L1526.1,921.5 L1529.3,938.0 L1537.5,987.3 L1539.8,999.1 L1542.1,1009.1 L1544.2,1016.5 L1546.5,1023.0 L1549.0,1028.3 L1551.5,1031.9 L1553.8,1034.2 L1556.3,1035.8 L1559.3,1036.9 L1563.0,1037.6 L1576.5,1038.2 L1588.8,1040.3 L1593.2,1040.7 L1615.2,1041.4 L1635.8,1041.7" stroke="#56a5ea"/>
<path d="M168.3,1042.6 L174.8,1042.5 L180.9,1042.1 L186.7,1041.6 L192.0,1040.7 L193.0,1039.9 L195.1,1037.0 L196.2,1036.2 L196.6,1036.3 L197.2,1036.7 L199.7,1039.8 L200.8,1040.4 L213.0,1040.2 L223.4,1039.5 L224.1,1039.2 L224.9,1038.6 L227.8,1034.8 L229.1,1033.5 L229.7,1033.2 L230.4,1033.2 L231.8,1035.1 L232.2,1035.3 L232.9,1034.6 L233.9,1032.5 L234.3,1032.2 L235.2,1032.5 L236.0,1033.2 L240.0,1038.1 L241.0,1038.7 L241.9,1038.7 L243.8,1038.0 L245.9,1036.0 L248.0,1033.1 L250.5,1028.7 L251.1,1027.2 L251.5,1025.5 L252.6,1019.2 L255.5,996.6 L257.4,980.1 L258.2,976.3 L259.5,974.1 L259.9,971.9 L260.3,967.8 L261.4,946.2 L263.7,867.5 L264.3,855.7 L264.7,853.4 L264.9,853.8 L265.4,856.6 L266.0,865.0 L267.9,903.8 L268.7,916.9 L269.6,923.7 L271.0,929.7 L271.7,935.7 L272.3,951.1 L273.7,999.8 L274.2,1008.1 L274.8,1014.7 L275.0,1015.6 L275.4,1016.4 L275.6,1016.3 L276.1,1015.3 L276.7,1012.1 L277.3,1006.9 L278.4,993.8 L280.9,952.9 L281.5,947.4 L281.9,946.0 L282.1,946.1 L282.8,949.4 L283.4,956.9 L286.1,1006.2 L287.6,1023.2 L288.6,1029.2 L289.7,1032.1 L290.5,1033.0 L291.6,1033.4 L292.4,1033.0 L293.0,1032.0 L293.7,1030.1 L294.3,1026.8 L295.1,1019.1 L296.0,1005.7 L296.8,984.4 L298.3,924.4 L301.2,761.3 L302.1,733.2 L302.7,725.2 L302.9,725.2 L303.1,726.7 L303.5,733.6 L304.4,762.1 L307.3,926.7 L308.8,987.5 L309.4,1004.5 L310.2,1020.1 L311.3,1031.1 L312.3,1036.3 L313.2,1038.2 L314.4,1039.3 L316.7,1039.8 L320.3,1039.8 L321.5,1039.3 L322.8,1038.6 L328.3,1034.2 L332.0,1031.9 L332.9,1030.9 L333.7,1028.8 L334.5,1025.5 L336.2,1017.0 L336.9,1014.9 L337.3,1014.4 L337.5,1014.4 L337.9,1015.0 L338.5,1017.3 L340.4,1028.6 L341.3,1032.5 L342.3,1035.6 L343.3,1037.0 L344.8,1037.7 L345.9,1037.9 L346.5,1037.7 L347.8,1036.5 L350.7,1032.8 L351.5,1032.2 L352.2,1032.0 L352.8,1032.3 L353.4,1032.8 L356.3,1036.7 L357.6,1037.8 L359.1,1037.8 L361.2,1037.6 L363.1,1037.1 L364.1,1036.6 L364.9,1035.7 L365.6,1034.3 L366.6,1029.9 L367.7,1021.2 L369.8,997.6 L370.4,993.9 L370.6,993.4 L370.8,993.3 L371.2,994.4 L371.9,998.7 L374.4,1024.6 L375.4,1030.0 L375.8,1031.2 L376.5,1032.2 L377.3,1032.7 L378.6,1032.9 L388.8,1032.5 L389.7,1032.0 L390.5,1031.3 L394.5,1026.5 L395.5,1025.8 L396.4,1025.7 L397.6,1026.3 L398.9,1027.5 L402.9,1033.3 L404.4,1035.1 L405.2,1035.8 L406.0,1036.2 L406.5,1036.2 L406.9,1035.8 L407.9,1032.4 L410.0,1022.7 L414.4,1008.9 L416.1,1001.3 L417.1,994.3 L418.2,984.8 L420.3,957.4 L422.2,920.2 L423.9,874.5 L428.5,709.5 L429.9,664.2 L431.4,634.1 L432.0,627.3 L432.7,624.6 L432.9,624.6 L433.3,626.0 L434.1,634.2 L435.6,665.0 L437.1,712.1 L440.6,851.9 L442.5,916.4 L444.6,969.2 L445.7,987.9 L446.7,1002.2 L447.8,1012.8 L448.8,1020.3 L450.1,1026.3 L450.7,1028.4 L451.5,1030.2 L452.6,1031.4 L453.2,1031.5 L453.8,1031.3 L455.1,1030.4 L458.9,1026.5 L459.9,1025.9 L461.0,1026.0 L461.8,1026.7 L462.8,1028.2 L466.8,1036.3 L467.7,1037.4 L468.5,1038.0 L470.4,1037.9 L471.6,1037.3 L472.7,1035.9 L473.5,1033.7 L475.0,1026.4 L477.5,1007.7 L478.1,1004.6 L478.8,1003.3 L479.0,1003.3 L479.4,1004.0 L480.2,1007.7 L482.6,1024.9 L483.6,1031.0 L484.6,1034.7 L485.3,1036.0 L486.1,1037.0 L487.2,1037.5 L488.8,1037.7 L496.0,1037.3 L496.8,1037.0 L497.9,1035.8 L498.9,1034.0 L503.3,1024.1 L504.4,1022.5 L505.4,1021.6 L506.2,1021.6 L507.1,1022.5 L509.8,1028.0 L510.6,1029.2 L511.1,1029.5 L511.5,1029.4 L512.5,1027.9 L513.4,1025.2 L514.2,1020.4 L515.5,1007.6 L516.7,986.8 L519.4,931.1 L520.3,920.8 L520.9,917.9 L521.1,917.9 L521.3,918.4 L521.8,920.6 L522.6,929.7 L526.4,1000.0 L527.4,1013.9 L528.7,1024.4 L529.5,1028.4 L530.3,1030.7 L531.4,1032.0 L532.0,1032.3 L532.9,1032.2 L533.7,1031.7 L534.5,1030.9 L536.2,1028.3 L537.5,1025.2 L538.7,1020.8 L540.6,1010.6 L542.5,995.0 L544.2,975.4 L545.7,953.1 L547.1,925.8 L548.8,888.7 L554.0,752.1 L556.1,704.2 L557.2,685.5 L558.2,671.4 L559.3,662.4 L559.9,659.7 L560.3,659.0 L560.7,659.2 L561.2,660.4 L562.2,667.2 L563.1,676.5 L564.1,692.4 L566.2,735.8 L571.0,858.2 L573.5,914.0 L574.8,937.0 L576.3,959.2 L577.5,974.6 L579.0,988.5 L580.9,1001.6 L582.8,1011.0 L584.9,1018.1 L585.9,1020.6 L587.6,1023.8 L589.9,1027.3 L592.0,1029.4 L594.1,1030.2 L598.5,1030.9 L600.2,1031.3 L601.6,1032.2 L605.0,1035.1 L606.4,1035.9 L611.7,1036.8 L618.6,1037.5 L633.3,1038.2 L637.7,1038.1 L639.8,1037.5 L641.2,1036.2 L642.5,1034.0 L643.6,1031.0 L644.8,1025.0 L645.9,1017.6 L647.7,996.8 L649.6,965.6 L654.0,876.4 L655.5,857.7 L656.1,853.5 L656.8,852.0 L657.0,852.1 L657.4,853.1 L658.0,856.9 L659.5,874.8 L664.3,971.9 L665.6,992.8 L666.8,1009.0 L668.3,1022.2 L669.8,1030.4 L670.6,1033.4 L671.6,1035.8 L672.7,1037.4 L674.0,1038.4 L675.6,1039.0 L678.1,1039.3 L693.4,1039.2 L697.9,1038.9 L699.1,1038.5 L700.2,1037.9 L701.8,1036.0 L703.3,1032.9 L705.0,1027.4 L708.8,1012.2 L709.8,1009.7 L710.4,1009.0 L710.8,1008.9 L711.3,1009.2 L711.9,1010.0 L712.9,1012.8 L716.7,1027.9 L718.6,1033.6 L719.7,1035.6 L720.9,1037.1 L722.2,1037.9 L723.8,1038.4 L728.7,1038.4 L752.8,1037.2 L758.0,1037.2 L768.5,1037.9 L770.6,1037.9 L772.3,1037.5 L773.3,1037.0 L774.4,1036.2 L776.0,1033.8 L777.7,1030.1 L781.5,1019.3 L782.5,1017.4 L783.2,1016.9 L783.6,1016.8 L784.0,1016.9 L784.6,1017.4 L785.7,1019.3 L789.5,1030.1 L791.4,1034.2 L792.4,1035.7 L793.4,1036.7 L794.7,1037.4 L796.4,1037.8 L799.9,1038.0 L818.2,1038.0 L821.5,1037.7 L824.3,1037.1 L827.6,1036.0 L837.9,1032.1 L844.4,1029.3 L846.3,1028.8 L848.0,1028.6 L849.8,1028.9 L851.9,1030.0 L854.2,1031.8 L860.7,1037.6 L862.8,1038.9 L864.7,1039.5 L867.2,1039.4 L870.2,1038.9 L882.3,1034.8 L885.3,1034.1 L887.8,1033.9 L889.5,1033.9 L891.3,1034.5 L898.3,1038.0 L899.9,1038.6 L901.4,1038.9 L906.9,1038.8 L915.7,1038.3 L919.2,1037.9 L921.3,1037.4 L922.6,1036.8 L923.8,1035.9 L924.9,1034.7 L925.9,1033.1 L927.6,1028.9 L929.3,1022.4 L930.8,1014.5 L932.2,1004.5 L936.4,969.3 L937.9,958.5 L938.7,953.7 L939.6,950.2 L940.4,948.2 L941.0,947.7 L941.9,948.0 L942.9,949.6 L944.0,952.4 L945.0,956.3 L947.3,967.7 L952.6,999.4 L955.3,1013.7 L956.8,1019.9 L958.4,1025.6 L960.1,1030.0 L961.8,1033.3 L963.7,1035.8 L965.6,1037.4 L967.9,1038.5 L970.8,1039.1 L976.9,1039.4 L989.0,1039.0 L993.4,1038.6 L996.0,1037.8 L997.4,1036.5 L998.5,1035.0 L999.5,1032.4 L1000.4,1029.2 L1001.2,1024.7 L1002.0,1018.6 L1003.5,1002.8 L1004.8,982.9 L1006.0,956.9 L1009.6,864.0 L1010.8,835.4 L1011.7,821.1 L1012.3,813.7 L1012.9,809.4 L1013.1,808.7 L1013.6,808.2 L1014.0,808.8 L1014.6,811.6 L1015.9,823.7 L1017.1,842.5 L1020.5,904.6 L1022.2,931.5 L1024.1,953.4 L1024.9,960.2 L1025.9,966.6 L1027.2,971.8 L1028.5,975.0 L1029.7,977.1 L1033.7,982.3 L1035.2,984.9 L1036.8,988.7 L1039.4,995.5 L1045.9,1015.0 L1047.9,1020.4 L1049.8,1024.7 L1052.1,1029.0 L1054.7,1032.5 L1057.2,1035.0 L1059.9,1036.7 L1062.4,1037.7 L1065.1,1038.3 L1069.1,1038.7 L1072.3,1038.8 L1077.7,1038.0 L1090.9,1035.0 L1094.3,1034.5 L1097.2,1034.4 L1099.3,1035.1 L1103.7,1038.0 L1105.8,1038.9 L1126.6,1038.9 L1129.7,1038.7 L1131.6,1038.1 L1133.1,1037.0 L1134.3,1035.3 L1135.8,1031.5 L1137.3,1025.0 L1138.5,1016.4 L1139.6,1006.5 L1141.9,975.2 L1145.4,911.1 L1146.9,888.2 L1148.4,873.3 L1149.0,870.2 L1149.2,869.6 L1149.6,869.3 L1150.3,869.6 L1150.9,870.6 L1152.1,874.5 L1153.4,880.6 L1154.7,888.8 L1157.2,910.0 L1164.1,976.5 L1166.4,994.5 L1168.7,1008.8 L1171.2,1020.1 L1172.5,1024.3 L1173.9,1028.2 L1175.4,1031.1 L1176.9,1033.3 L1178.6,1035.0 L1180.7,1036.4 L1183.8,1037.5 L1188.4,1038.2 L1205.6,1039.5 L1215.5,1039.9 L1275.0,1039.8 L1278.1,1039.6 L1280.4,1039.1 L1282.5,1038.4 L1284.2,1037.3 L1285.5,1036.1 L1286.5,1034.7 L1288.6,1030.9 L1290.5,1025.6 L1292.4,1018.4 L1294.1,1010.2 L1296.0,998.9 L1301.6,958.2 L1303.7,945.0 L1305.0,938.9 L1306.0,935.2 L1307.1,933.0 L1307.7,932.3 L1308.1,932.2 L1308.5,932.3 L1309.2,932.9 L1310.2,935.2 L1311.3,938.9 L1312.5,944.9 L1314.6,958.0 L1320.5,1000.0 L1322.4,1011.0 L1324.0,1019.1 L1325.9,1026.0 L1328.0,1031.5 L1329.1,1033.4 L1330.3,1035.2 L1331.6,1036.6 L1333.1,1037.6 L1334.9,1038.5 L1337.5,1039.1 L1340.4,1039.3 L1345.2,1039.4 L1379.4,1039.0 L1406.9,1038.4 L1421.9,1038.0 L1427.8,1037.3 L1430.1,1036.7 L1432.2,1035.8 L1433.9,1034.6 L1435.6,1033.0 L1437.0,1031.1 L1438.7,1028.5 L1443.5,1019.2 L1445.2,1016.4 L1447.1,1014.3 L1447.9,1013.8 L1448.8,1013.6 L1450.2,1014.1 L1451.9,1015.6 L1453.6,1018.0 L1458.2,1025.3 L1459.7,1027.2 L1461.1,1028.7 L1462.8,1029.8 L1464.7,1030.5 L1466.6,1030.6 L1468.5,1030.2 L1469.7,1029.5 L1471.0,1028.5 L1473.1,1025.9 L1475.0,1022.1 L1476.9,1016.3 L1478.5,1009.0 L1480.0,1000.6 L1481.5,989.9 L1483.0,976.5 L1485.5,947.0 L1488.0,908.8 L1490.3,867.3 L1495.5,764.4 L1498.3,719.0 L1499.7,700.7 L1501.0,689.3 L1502.2,682.5 L1502.9,680.9 L1503.5,680.5 L1504.5,681.2 L1505.8,683.5 L1506.9,686.6 L1508.1,691.8 L1510.4,704.9 L1512.9,724.2 L1515.0,743.5 L1517.3,767.2 L1528.7,893.7 L1532.0,926.1 L1535.2,952.2 L1538.1,972.5 L1541.2,990.1 L1544.4,1003.7 L1546.1,1009.5 L1547.7,1014.5 L1550.0,1020.0 L1552.3,1024.3 L1554.9,1027.9 L1557.6,1030.8 L1560.1,1032.6 L1563.0,1034.2 L1570.0,1037.2 L1575.8,1039.3 L1580.6,1040.4 L1585.5,1040.8 L1609.4,1041.5 L1635.8,1041.7" stroke="#3066ba"/>
</g>
<g font-size="28" fill="#000">
<text transform="translate(143.60,487.85) scale(1,1.04)" font-size="28" text-anchor="end" stroke="#000" stroke-width="0.3">0</text>
<text transform="translate(143.60,436.43) scale(1,1.04)" font-size="28" text-anchor="end" stroke="#000" stroke-width="0.3">20</text>
<text transform="translate(143.60,385.01) scale(1,1.04)" font-size="28" text-anchor="end" stroke="#000" stroke-width="0.3">40</text>
<text transform="translate(143.60,333.59) scale(1,1.04)" font-size="28" text-anchor="end" stroke="#000" stroke-width="0.3">60</text>
<text transform="translate(143.60,282.17) scale(1,1.04)" font-size="28" text-anchor="end" stroke="#000" stroke-width="0.3">80</text>
<text transform="translate(143.60,230.75) scale(1,1.04)" font-size="28" text-anchor="end" stroke="#000" stroke-width="0.3">100</text>
<text transform="translate(143.60,179.33) scale(1,1.04)" font-size="28" text-anchor="end" stroke="#000" stroke-width="0.3">120</text>
<text transform="translate(143.60,127.91) scale(1,1.04)" font-size="28" text-anchor="end" stroke="#000" stroke-width="0.3">140</text>
<text transform="translate(143.60,76.49) scale(1,1.04)" font-size="28" text-anchor="end" stroke="#000" stroke-width="0.3">160</text>
<text transform="translate(143.60,25.07) scale(1,1.04)" font-size="28" text-anchor="end" stroke="#000" stroke-width="0.3">180</text>
<text transform="translate(168.40,520.70) scale(1,1.04)" font-size="28" text-anchor="middle" stroke="#000" stroke-width="0.3">(0)</text>
<text transform="translate(210.02,520.70) scale(1,1.04)" font-size="28" text-anchor="middle" stroke="#000" stroke-width="0.3">1</text>
<text transform="translate(255.43,520.70) scale(1,1.04)" font-size="28" text-anchor="middle" stroke="#000" stroke-width="0.3">2</text>
<text transform="translate(300.85,520.70) scale(1,1.04)" font-size="28" text-anchor="middle" stroke="#000" stroke-width="0.3">3</text>
<text transform="translate(346.27,520.70) scale(1,1.04)" font-size="28" text-anchor="middle" stroke="#000" stroke-width="0.3">4</text>
<text transform="translate(391.69,520.70) scale(1,1.04)" font-size="28" text-anchor="middle" stroke="#000" stroke-width="0.3">5</text>
<text transform="translate(437.10,520.70) scale(1,1.04)" font-size="28" text-anchor="middle" stroke="#000" stroke-width="0.3">6</text>
<text transform="translate(482.52,520.70) scale(1,1.04)" font-size="28" text-anchor="middle" stroke="#000" stroke-width="0.3">7</text>
<text transform="translate(527.94,520.70) scale(1,1.04)" font-size="28" text-anchor="middle" stroke="#000" stroke-width="0.3">8</text>
<text transform="translate(573.35,520.70) scale(1,1.04)" font-size="28" text-anchor="middle" stroke="#000" stroke-width="0.3">9</text>
<text transform="translate(618.77,520.70) scale(1,1.04)" font-size="28" text-anchor="middle" stroke="#000" stroke-width="0.3">10</text>
<text transform="translate(664.19,520.70) scale(1,1.04)" font-size="28" text-anchor="middle" stroke="#000" stroke-width="0.3">11</text>
<text transform="translate(709.60,520.70) scale(1,1.04)" font-size="28" text-anchor="middle" stroke="#000" stroke-width="0.3">12</text>
<text transform="translate(755.02,520.70) scale(1,1.04)" font-size="28" text-anchor="middle" stroke="#000" stroke-width="0.3">13</text>
<text transform="translate(800.44,520.70) scale(1,1.04)" font-size="28" text-anchor="middle" stroke="#000" stroke-width="0.3">14</text>
<text transform="translate(845.86,520.70) scale(1,1.04)" font-size="28" text-anchor="middle" stroke="#000" stroke-width="0.3">15</text>
<text transform="translate(891.27,520.70) scale(1,1.04)" font-size="28" text-anchor="middle" stroke="#000" stroke-width="0.3">16</text>
<text transform="translate(936.69,520.70) scale(1,1.04)" font-size="28" text-anchor="middle" stroke="#000" stroke-width="0.3">17</text>
<text transform="translate(982.11,520.70) scale(1,1.04)" font-size="28" text-anchor="middle" stroke="#000" stroke-width="0.3">18</text>
<text transform="translate(1027.52,520.70) scale(1,1.04)" font-size="28" text-anchor="middle" stroke="#000" stroke-width="0.3">19</text>
<text transform="translate(1072.94,520.70) scale(1,1.04)" font-size="28" text-anchor="middle" stroke="#000" stroke-width="0.3">20</text>
<text transform="translate(1118.36,520.70) scale(1,1.04)" font-size="28" text-anchor="middle" stroke="#000" stroke-width="0.3">21</text>
<text transform="translate(1163.77,520.70) scale(1,1.04)" font-size="28" text-anchor="middle" stroke="#000" stroke-width="0.3">22</text>
<text transform="translate(1209.19,520.70) scale(1,1.04)" font-size="28" text-anchor="middle" stroke="#000" stroke-width="0.3">23</text>
<text transform="translate(1254.61,520.70) scale(1,1.04)" font-size="28" text-anchor="middle" stroke="#000" stroke-width="0.3">24</text>
<text transform="translate(1300.03,520.70) scale(1,1.04)" font-size="28" text-anchor="middle" stroke="#000" stroke-width="0.3">25</text>
<text transform="translate(1345.44,520.70) scale(1,1.04)" font-size="28" text-anchor="middle" stroke="#000" stroke-width="0.3">26</text>
<text transform="translate(1390.86,520.70) scale(1,1.04)" font-size="28" text-anchor="middle" stroke="#000" stroke-width="0.3">27</text>
<text transform="translate(1436.28,520.70) scale(1,1.04)" font-size="28" text-anchor="middle" stroke="#000" stroke-width="0.3">28</text>
<text transform="translate(1481.69,520.70) scale(1,1.04)" font-size="28" text-anchor="middle" stroke="#000" stroke-width="0.3">29</text>
<text transform="translate(1527.11,520.70) scale(1,1.04)" font-size="28" text-anchor="middle" stroke="#000" stroke-width="0.3">30</text>
<text transform="translate(1572.53,520.70) scale(1,1.04)" font-size="28" text-anchor="middle" stroke="#000" stroke-width="0.3">31</text>
<text transform="translate(1617.94,520.70) scale(1,1.04)" font-size="28" text-anchor="middle" stroke="#000" stroke-width="0.3">32</text>
<text transform="translate(1663.36,520.70) scale(1,1.04)" font-size="28" text-anchor="middle" stroke="#000" stroke-width="0.3">33</text>
<text transform="translate(1708.78,520.70) scale(1,1.04)" font-size="28" text-anchor="middle" stroke="#000" stroke-width="0.3">34</text>
<text transform="translate(1754.20,520.70) scale(1,1.04)" font-size="28" text-anchor="middle" stroke="#000" stroke-width="0.3">35</text>
</g>
<g font-size="23.6" fill="#000">
<text transform="translate(148.60,1051.90) scale(1,1.04)" font-size="23.6" text-anchor="end" stroke="#000" stroke-width="0.3">0</text>
<text transform="translate(148.60,1015.52) scale(1,1.04)" font-size="23.6" text-anchor="end" stroke="#000" stroke-width="0.3">200</text>
<text transform="translate(148.60,979.15) scale(1,1.04)" font-size="23.6" text-anchor="end" stroke="#000" stroke-width="0.3">400</text>
<text transform="translate(148.60,942.77) scale(1,1.04)" font-size="23.6" text-anchor="end" stroke="#000" stroke-width="0.3">600</text>
<text transform="translate(148.60,906.40) scale(1,1.04)" font-size="23.6" text-anchor="end" stroke="#000" stroke-width="0.3">800</text>
<text transform="translate(148.60,870.02) scale(1,1.04)" font-size="23.6" text-anchor="end" stroke="#000" stroke-width="0.3">1000</text>
<text transform="translate(148.60,833.64) scale(1,1.04)" font-size="23.6" text-anchor="end" stroke="#000" stroke-width="0.3">1200</text>
<text transform="translate(148.60,797.27) scale(1,1.04)" font-size="23.6" text-anchor="end" stroke="#000" stroke-width="0.3">1400</text>
<text transform="translate(148.60,760.89) scale(1,1.04)" font-size="23.6" text-anchor="end" stroke="#000" stroke-width="0.3">1600</text>
<text transform="translate(148.60,724.52) scale(1,1.04)" font-size="23.6" text-anchor="end" stroke="#000" stroke-width="0.3">1800</text>
<text transform="translate(148.60,688.14) scale(1,1.04)" font-size="23.6" text-anchor="end" stroke="#000" stroke-width="0.3">2000</text>
<text transform="translate(148.60,651.76) scale(1,1.04)" font-size="23.6" text-anchor="end" stroke="#000" stroke-width="0.3">2200</text>
<text transform="translate(148.60,615.39) scale(1,1.04)" font-size="23.6" text-anchor="end" stroke="#000" stroke-width="0.3">2400</text>
<text transform="translate(148.60,579.01) scale(1,1.04)" font-size="23.6" text-anchor="end" stroke="#000" stroke-width="0.3">2600</text>
<text transform="translate(165.00,1079.50) scale(1,1.04)" font-size="23.6" text-anchor="middle" stroke="#000" stroke-width="0.3">5</text>
<text transform="translate(217.41,1079.50) scale(1,1.04)" font-size="23.6" text-anchor="middle" stroke="#000" stroke-width="0.3">6</text>
<text transform="translate(269.82,1079.50) scale(1,1.04)" font-size="23.6" text-anchor="middle" stroke="#000" stroke-width="0.3">7</text>
<text transform="translate(322.23,1079.50) scale(1,1.04)" font-size="23.6" text-anchor="middle" stroke="#000" stroke-width="0.3">8</text>
<text transform="translate(374.64,1079.50) scale(1,1.04)" font-size="23.6" text-anchor="middle" stroke="#000" stroke-width="0.3">9</text>
<text transform="translate(427.05,1079.50) scale(1,1.04)" font-size="23.6" text-anchor="middle" stroke="#000" stroke-width="0.3">10</text>
<text transform="translate(479.46,1079.50) scale(1,1.04)" font-size="23.6" text-anchor="middle" stroke="#000" stroke-width="0.3">11</text>
<text transform="translate(531.87,1079.50) scale(1,1.04)" font-size="23.6" text-anchor="middle" stroke="#000" stroke-width="0.3">12</text>
<text transform="translate(584.28,1079.50) scale(1,1.04)" font-size="23.6" text-anchor="middle" stroke="#000" stroke-width="0.3">13</text>
<text transform="translate(636.69,1079.50) scale(1,1.04)" font-size="23.6" text-anchor="middle" stroke="#000" stroke-width="0.3">14</text>
<text transform="translate(689.10,1079.50) scale(1,1.04)" font-size="23.6" text-anchor="middle" stroke="#000" stroke-width="0.3">15</text>
<text transform="translate(741.51,1079.50) scale(1,1.04)" font-size="23.6" text-anchor="middle" stroke="#000" stroke-width="0.3">16</text>
<text transform="translate(793.92,1079.50) scale(1,1.04)" font-size="23.6" text-anchor="middle" stroke="#000" stroke-width="0.3">17</text>
<text transform="translate(846.33,1079.50) scale(1,1.04)" font-size="23.6" text-anchor="middle" stroke="#000" stroke-width="0.3">18</text>
<text transform="translate(898.74,1079.50) scale(1,1.04)" font-size="23.6" text-anchor="middle" stroke="#000" stroke-width="0.3">19</text>
<text transform="translate(951.15,1079.50) scale(1,1.04)" font-size="23.6" text-anchor="middle" stroke="#000" stroke-width="0.3">20</text>
<text transform="translate(1003.56,1079.50) scale(1,1.04)" font-size="23.6" text-anchor="middle" stroke="#000" stroke-width="0.3">21</text>
<text transform="translate(1055.97,1079.50) scale(1,1.04)" font-size="23.6" text-anchor="middle" stroke="#000" stroke-width="0.3">22</text>
<text transform="translate(1108.38,1079.50) scale(1,1.04)" font-size="23.6" text-anchor="middle" stroke="#000" stroke-width="0.3">23</text>
<text transform="translate(1160.79,1079.50) scale(1,1.04)" font-size="23.6" text-anchor="middle" stroke="#000" stroke-width="0.3">24</text>
<text transform="translate(1213.20,1079.50) scale(1,1.04)" font-size="23.6" text-anchor="middle" stroke="#000" stroke-width="0.3">25</text>
<text transform="translate(1265.61,1079.50) scale(1,1.04)" font-size="23.6" text-anchor="middle" stroke="#000" stroke-width="0.3">26</text>
<text transform="translate(1318.02,1079.50) scale(1,1.04)" font-size="23.6" text-anchor="middle" stroke="#000" stroke-width="0.3">27</text>
<text transform="translate(1370.43,1079.50) scale(1,1.04)" font-size="23.6" text-anchor="middle" stroke="#000" stroke-width="0.3">28</text>
<text transform="translate(1422.84,1079.50) scale(1,1.04)" font-size="23.6" text-anchor="middle" stroke="#000" stroke-width="0.3">29</text>
<text transform="translate(1475.25,1079.50) scale(1,1.04)" font-size="23.6" text-anchor="middle" stroke="#000" stroke-width="0.3">30</text>
<text transform="translate(1527.66,1079.50) scale(1,1.04)" font-size="23.6" text-anchor="middle" stroke="#000" stroke-width="0.3">31</text>
<text transform="translate(1580.07,1079.50) scale(1,1.04)" font-size="23.6" text-anchor="middle" stroke="#000" stroke-width="0.3">32</text>
</g>
<text transform="translate(642.00,102.10) scale(1,1.045)" font-size="28" stroke="#000" stroke-width="0.3"><tspan font-style="italic">Lactobacillus plantarum</tspan> LBP-K10</text>
<line x1="638.2" y1="145.4" x2="686.2" y2="145.4" stroke="#ecb925" stroke-width="3.4"/>
<text transform="translate(691.20,154.30) scale(1,1.04)" font-size="28" stroke="#000" stroke-width="0.3">16 h</text>
<line x1="766.0" y1="145.4" x2="814.0" y2="145.4" stroke="#d90000" stroke-width="3.4"/>
<text transform="translate(818.95,154.30) scale(1,1.04)" font-size="28" stroke="#000" stroke-width="0.3">24 h</text>
<line x1="893.7" y1="145.4" x2="941.7" y2="145.4" stroke="#a10000" stroke-width="3.4"/>
<text transform="translate(946.70,154.30) scale(1,1.04)" font-size="28" stroke="#000" stroke-width="0.3">32 h</text>
<line x1="1021.5" y1="145.4" x2="1069.5" y2="145.4" stroke="#aecd87" stroke-width="3.4"/>
<text transform="translate(1074.45,154.30) scale(1,1.04)" font-size="28" stroke="#000" stroke-width="0.3">40 h</text>
<line x1="1149.2" y1="145.4" x2="1197.2" y2="145.4" stroke="#5b7e35" stroke-width="3.4"/>
<text transform="translate(1202.20,154.30) scale(1,1.04)" font-size="28" stroke="#000" stroke-width="0.3">48 h</text>
<line x1="1277.0" y1="145.4" x2="1325.0" y2="145.4" stroke="#8fa5d8" stroke-width="3.4"/>
<text transform="translate(1329.95,154.30) scale(1,1.04)" font-size="28" stroke="#000" stroke-width="0.3">56 h</text>
<line x1="1404.7" y1="145.4" x2="1452.7" y2="145.4" stroke="#344e98" stroke-width="3.4"/>
<text transform="translate(1457.70,154.30) scale(1,1.04)" font-size="28" stroke="#000" stroke-width="0.3">64 h</text>
<line x1="1532.5" y1="145.4" x2="1580.5" y2="145.4" stroke="#1f2b5c" stroke-width="3.4"/>
<text transform="translate(1585.45,154.30) scale(1,1.04)" font-size="28" stroke="#000" stroke-width="0.3">72 h</text>
<line x1="716.3" y1="618.9" x2="802.3" y2="618.9" stroke="#d60000" stroke-width="3"/>
<text transform="translate(808.20,629.10) scale(1,1.01)" font-size="27.8" stroke="#000" stroke-width="0.3"><tspan font-style="italic">Lactobacillus plantarum</tspan> LBP-K10</text>
<line x1="716.3" y1="657.2" x2="802.3" y2="657.2" stroke="#3066ba" stroke-width="3"/>
<text transform="translate(808.20,667.40) scale(1,1.01)" font-size="27.8" stroke="#000" stroke-width="0.3"><tspan font-style="italic">Leuconostoc mesenteroides</tspan> LBP-K06</text>
<line x1="716.3" y1="694.5" x2="802.3" y2="694.5" stroke="#56a5ea" stroke-width="3"/>
<text transform="translate(808.20,704.70) scale(1,1.01)" font-size="27.8" stroke="#000" stroke-width="0.3"><tspan font-style="italic">Pediococcus pentosaceus</tspan> LBP-K17</text>
<polygon points="252.4,657.6 261.7,646.3 261.7,655.9 269.8,655.9 269.8,646.3 279.1,657.6 269.8,668.9 269.8,659.4 261.7,659.4 261.7,668.9" fill="#000"/>
<text transform="translate(249.60,646.80) scale(1,1.05)" font-size="28" fill="#b04d08" stroke="#b04d08" stroke-width="0.3">F1</text>
<polygon points="274.1,841.2 283.4,829.9 283.4,839.5 291.5,839.5 291.5,829.9 300.8,841.2 291.5,852.5 291.5,843.0 283.4,843.0 283.4,852.5" fill="#000"/>
<text transform="translate(271.70,829.70) scale(1,1.05)" font-size="28" fill="#b04d08" stroke="#b04d08" stroke-width="0.3">F2</text>
<polygon points="293.8,697.5 303.1,686.2 303.1,695.8 311.0,695.8 311.0,686.2 320.3,697.5 311.0,708.8 311.0,699.2 303.1,699.2 303.1,708.8" fill="#000"/>
<text transform="translate(291.20,686.90) scale(1,1.05)" font-size="28" fill="#b04d08" stroke="#b04d08" stroke-width="0.3">F3</text>
<polygon points="321.9,991.4 331.2,980.1 331.2,989.6 352.0,989.6 352.0,980.1 361.3,991.4 352.0,1002.7 352.0,993.1 331.2,993.1 331.2,1002.7" fill="#000"/>
<text transform="translate(325.90,980.70) scale(1,1.05)" font-size="28" fill="#b04d08" stroke="#b04d08" stroke-width="0.3">F4</text>
<polygon points="361.3,991.4 370.6,980.1 370.6,989.6 381.8,989.6 381.8,980.1 391.1,991.4 381.8,1002.7 381.8,993.1 370.6,993.1 370.6,1002.7" fill="#000"/>
<text transform="translate(360.10,980.70) scale(1,1.05)" font-size="28" fill="#b04d08" stroke="#b04d08" stroke-width="0.3">F5</text>
<polygon points="415.7,601.9 425.0,590.6 425.0,600.1 445.9,600.1 445.9,590.6 455.2,601.9 445.9,613.2 445.9,603.6 425.0,603.6 425.0,613.2" fill="#000"/>
<text transform="translate(419.70,590.70) scale(1,1.05)" font-size="28" fill="#b04d08" stroke="#b04d08" stroke-width="0.3">F6</text>
<polygon points="536.1,648.7 545.4,637.4 545.4,647.0 579.7,647.0 579.7,637.4 589.0,648.7 579.7,660.0 579.7,650.5 545.4,650.5 545.4,660.0" fill="#000"/>
<text transform="translate(546.80,637.80) scale(1,1.05)" font-size="28" fill="#b04d08" stroke="#b04d08" stroke-width="0.3">F7</text>
<polygon points="628.5,846.1 637.8,834.8 637.8,844.4 672.1,844.4 672.1,834.8 681.4,846.1 672.1,857.4 672.1,847.9 637.8,847.9 637.8,857.4" fill="#000"/>
<text transform="translate(639.20,835.70) scale(1,1.05)" font-size="28" fill="#b04d08" stroke="#b04d08" stroke-width="0.3">F8</text>
<polygon points="675.3,1001.0 684.6,989.7 684.6,999.2 734.8,999.2 734.8,989.7 744.1,1001.0 734.8,1012.3 734.8,1002.8 684.6,1002.8 684.6,1012.3" fill="#000"/>
<text transform="translate(693.50,990.00) scale(1,1.05)" font-size="28" fill="#b04d08" stroke="#b04d08" stroke-width="0.3">F9</text>
<polygon points="760.2,1009.9 769.5,998.6 769.5,1008.1 819.5,1008.1 819.5,998.6 828.8,1009.9 819.5,1021.2 819.5,1011.6 769.5,1011.6 769.5,1021.2" fill="#000"/>
<text transform="translate(771.00,998.90) scale(1,1.05)" font-size="28" fill="#b04d08" stroke="#b04d08" stroke-width="0.3">F10</text>
<polygon points="922.1,936.0 931.4,924.7 931.4,934.2 952.0,934.2 952.0,924.7 961.3,936.0 952.0,947.3 952.0,937.8 931.4,937.8 931.4,947.3" fill="#000"/>
<text transform="translate(918.70,924.80) scale(1,1.05)" font-size="28" fill="#b04d08" stroke="#b04d08" stroke-width="0.3">F11</text>
<polygon points="992.8,799.5 1002.1,788.2 1002.1,797.8 1023.0,797.8 1023.0,788.2 1032.3,799.5 1023.0,810.8 1023.0,801.2 1002.1,801.2 1002.1,810.8" fill="#000"/>
<text transform="translate(988.50,787.90) scale(1,1.05)" font-size="28" fill="#b04d08" stroke="#b04d08" stroke-width="0.3">F12</text>
<polygon points="1068.4,909.3 1077.7,898.0 1077.7,907.5 1098.2,907.5 1098.2,898.0 1107.5,909.3 1098.2,920.6 1098.2,911.0 1077.7,911.0 1077.7,920.6" fill="#000"/>
<text transform="translate(1064.10,898.20) scale(1,1.05)" font-size="28" fill="#b04d08" stroke="#b04d08" stroke-width="0.3">F13</text>
<polygon points="1116.5,756.3 1125.8,745.0 1125.8,754.5 1146.8,754.5 1146.8,745.0 1156.1,756.3 1146.8,767.6 1146.8,758.0 1125.8,758.0 1125.8,767.6" fill="#000"/>
<text transform="translate(1112.60,745.80) scale(1,1.05)" font-size="28" fill="#b04d08" stroke="#b04d08" stroke-width="0.3">F14</text>
<polygon points="1156.1,791.7 1165.4,780.4 1165.4,790.0 1185.9,790.0 1185.9,780.4 1195.2,791.7 1185.9,803.0 1185.9,793.5 1165.4,793.5 1165.4,803.0" fill="#000"/>
<text transform="translate(1152.20,780.80) scale(1,1.05)" font-size="28" fill="#b04d08" stroke="#b04d08" stroke-width="0.3">F15</text>
<polygon points="1278.0,921.9 1287.3,910.6 1287.3,920.1 1321.1,920.1 1321.1,910.6 1330.4,921.9 1321.1,933.2 1321.1,923.6 1287.3,923.6 1287.3,933.2" fill="#000"/>
<text transform="translate(1279.20,910.50) scale(1,1.05)" font-size="28" fill="#b04d08" stroke="#b04d08" stroke-width="0.3">F16</text>
<polygon points="1475.6,667.8 1484.9,656.5 1484.9,666.0 1522.2,666.0 1522.2,656.5 1531.5,667.8 1522.2,679.1 1522.2,669.5 1484.9,669.5 1484.9,679.1" fill="#000"/>
<text transform="translate(1479.20,656.50) scale(1,1.05)" font-size="28" fill="#b04d08" stroke="#b04d08" stroke-width="0.3">F17</text>
<text x="1.5" y="31.9" font-size="42" font-weight="bold">A</text>
<text x="0" y="576.4" font-size="42" font-weight="bold">B</text>
<text transform="translate(76.5,754.4) rotate(-90) scale(1,1.04)" font-size="32.7" fill="#2f5fb5" stroke="#2f5fb5" stroke-width="0.3">UV-absorbance [210 nm, mAU]</text>
<text transform="translate(772.00,1115.20) scale(1,1.02)" font-size="28" fill="#2f5fb5" stroke="#2f5fb5" stroke-width="0.3">Retention time (min)</text>
</svg>
</body></html>
